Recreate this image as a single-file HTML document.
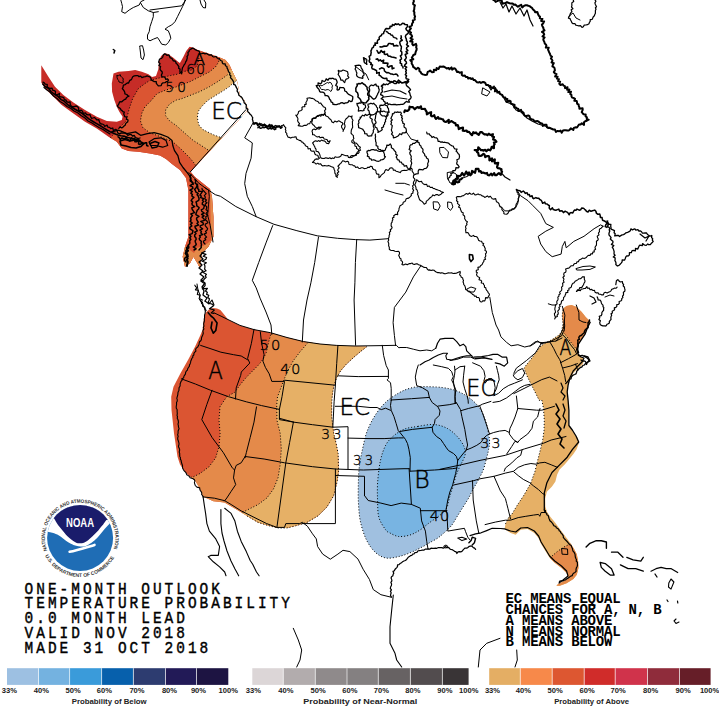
<!DOCTYPE html>
<html><head><meta charset="utf-8"><title>One-Month Outlook Temperature Probability</title>
<style>
html,body{margin:0;padding:0;background:#fff;width:719px;height:707px;overflow:hidden}
svg{display:block}
.mono{font-family:"Liberation Mono",monospace}
.sans{font-family:"Liberation Sans",sans-serif}
.lg{font-family:"Liberation Sans",sans-serif;font-weight:bold;font-size:7.6px;fill:#222}
.lg2{font-family:"Liberation Sans",sans-serif;font-weight:bold;font-size:8px;fill:#222}
.tt{font-family:"Liberation Mono",monospace;font-size:17px;letter-spacing:3.53px;fill:#000;stroke:#000;stroke-width:0.45px}
.ec{font-family:"Liberation Mono",monospace;font-weight:bold;font-size:14px;letter-spacing:-0.2px;fill:#000}
.ml{font-family:"DejaVu Sans",sans-serif;font-weight:200;fill:#000;stroke:#000;stroke-width:0.5px}
.noaa{font-family:"Liberation Sans",sans-serif;font-weight:bold;font-size:12.6px;fill:#fff}
.ring{font-family:"Liberation Sans",sans-serif;font-weight:bold;font-size:5px;fill:#333}
</style></head><body>
<svg width="719" height="707" viewBox="0 0 719 707">
<rect width="719" height="707" fill="#fff"/>
<defs>
<clipPath id="cak"><polygon points="41.3,65.3 48.4,76.7 55.0,86.7 63.4,95.0 73.4,102.6 85.0,110.0 96.8,116.8 106.8,121.0 116.8,121.8 121.8,120.1 122.6,116.8 119.3,111.8 116.8,106.8 114.3,100.0 112.1,91.7 111.8,83.4 113.5,73.4 118.5,71.7 128.5,70.9 135.2,70.0 141.8,71.7 148.5,74.2 152.0,77.0 156.0,76.0 158.3,69.2 159.0,60.9 161.1,56.0 164.6,53.2 168.1,53.9 173.0,57.4 177.8,61.6 179.9,63.0 183.4,56.7 186.2,51.1 189.6,46.7 193.1,47.6 197.3,49.7 202.9,51.8 209.7,54.0 219.6,57.4 225.5,59.9 229.5,64.9 232.5,71.8 235.4,77.7 236.9,80.7 240.4,97.5 244.4,100.5 248.3,109.4 190.5,171.7 195.0,177.0 200.0,181.0 205.0,185.0 210.0,189.0 212.0,197.0 213.4,216.7 213.4,236.7 208.4,246.7 201.8,253.4 200.0,268.3 197.4,263.3 193.4,256.7 190.0,263.3 185.0,266.7 182.7,256.7 185.0,246.7 188.4,236.7 188.4,216.7 188.4,190.0 186.0,178.0 180.0,170.0 172.0,164.0 166.0,159.0 160.0,155.5 150.0,153.5 138.5,151.8 128.5,151.0 121.8,148.5 116.8,141.8 108.5,136.8 96.8,128.5 85.0,121.8 73.4,113.4 61.7,105.0 51.7,95.0 45.0,88.4 41.3,82.5"/></clipPath>
<clipPath id="cw"><polygon points="205.6,312.7 209.0,309.5 213.3,308.1 217.0,308.5 220.4,309.9 224.5,315.0 228.2,319.8 240.0,325.4 254.0,329.6 270.5,332.7 287.0,337.5 303.6,341.6 320.0,344.0 336.7,345.4 352.0,346.2 366.7,346.7 360.0,352.0 353.0,358.0 346.0,364.5 340.5,371.0 336.5,378.0 333.8,386.0 332.3,395.0 331.7,403.3 331.7,416.7 332.6,424.5 333.7,433.4 335.9,442.3 338.1,453.4 338.6,471.2 337.0,482.4 333.7,495.7 327.0,506.9 318.1,515.8 307.0,522.4 295.8,525.8 286.9,528.0 278.0,528.0 269.1,525.8 258.0,522.4 246.8,515.8 235.7,509.1 224.5,502.4 213.4,501.3 203.4,496.8 200.0,489.0 195.6,481.2 188.9,475.7 184.5,471.2 180.0,464.5 177.5,456.7 174.0,433.3 171.5,410.0 171.2,396.7 173.5,386.7 180.5,373.3 188.0,360.0 195.0,346.7 200.0,336.0 202.5,330.0 204.0,318.0"/></clipPath>
<clipPath id="ce"><polygon points="563.0,308.7 566.4,306.1 571.5,304.9 576.6,307.0 581.7,312.1 585.9,317.2 588.5,319.7 590.2,322.3 587.6,327.4 585.1,334.1 581.7,339.2 578.3,344.3 576.6,349.4 578.3,354.5 581.7,357.1 584.2,359.6 582.5,364.7 578.3,368.1 573.2,373.2 569.8,380.0 568.1,385.1 567.2,391.9 568.1,400.4 568.9,410.2 568.9,425.5 573.2,432.3 577.4,437.4 579.1,442.4 576.6,449.2 573.2,454.3 568.9,459.4 564.7,464.5 559.6,469.6 557.1,474.7 555.4,481.5 552.0,486.6 546.9,491.7 545.2,498.5 545.4,506.8 547.1,511.9 550.5,517.0 554.7,522.1 559.8,528.9 564.9,535.7 570.0,542.4 574.2,549.2 576.8,554.3 578.1,561.1 578.5,567.9 576.8,574.7 573.4,578.9 566.6,583.2 559.8,585.7 556.4,585.7 558.1,584.0 563.2,581.5 568.3,578.1 566.6,573.0 561.5,567.9 554.7,562.8 549.6,557.7 545.4,550.9 541.1,544.1 538.6,538.2 534.3,533.1 527.5,528.9 520.7,529.7 515.7,534.8 510.6,533.1 504.6,528.9 505.5,523.8 508.9,517.0 512.1,513.8 517.2,505.3 524.0,495.1 530.7,483.2 535.0,471.3 537.5,461.1 540.1,450.9 542.6,440.7 544.0,430.6 544.3,420.4 543.5,408.5 541.8,400.0 539.2,400.4 535.0,391.9 530.7,383.4 526.5,374.9 524.0,368.1 526.5,364.7 530.7,359.6 535.8,352.8 540.9,346.0 546.0,342.6 551.1,340.1 557.9,335.8 561.3,332.4 563.0,324.0 562.2,315.5"/></clipPath>
</defs>
<g clip-path="url(#cak)">
<rect x="30" y="40" width="230" height="240" fill="#C62C27"/>
<polygon points="100.0,160.0 108.5,140.1 118.5,128.5 126.0,121.0 129.3,108.4 132.7,98.4 138.5,88.4 145.2,83.4 150.0,80.3 158.3,78.2 163.9,76.9 170.9,75.5 177.8,74.1 184.8,71.3 191.7,69.9 197.0,66.0 199.0,58.0 198.0,40.0 280.0,40.0 280.0,300.0 100.0,300.0" fill="#DB5532"/>
<polygon points="222.0,50.0 219.6,57.9 218.6,61.9 215.6,66.8 209.7,71.8 199.8,76.7 189.9,81.7 176.0,87.0 166.0,90.0 157.2,93.5 150.8,101.0 144.9,106.9 141.9,112.9 140.4,120.8 142.9,127.7 149.8,132.7 160.0,136.5 172.6,141.6 181.5,149.5 189.4,157.4 194.4,163.4 197.3,168.3 205.0,160.0 280.0,100.0 280.0,50.0" fill="#E48A4A"/>
<polygon points="229.0,70.0 227.5,74.8 223.6,77.7 217.6,81.7 209.7,86.6 199.8,91.6 189.9,95.5 180.9,99.0 176.5,100.0 169.6,104.0 165.6,109.9 165.6,115.8 169.6,120.8 176.5,125.7 185.4,133.7 193.4,140.6 198.3,143.6 208.1,150.0 212.0,152.0 280.0,100.0 280.0,70.0" fill="#E6B066"/>
<polygon points="238.0,79.0 236.4,80.7 232.5,83.7 229.5,86.6 223.6,90.6 215.6,95.5 207.7,100.5 201.8,106.4 198.5,111.0 197.5,116.0 197.8,121.0 199.3,125.7 203.0,129.6 213.2,134.7 222.5,138.1 226.0,139.0 280.0,100.0 280.0,79.0" fill="#fff"/>
<polygon points="180,252 185,246 190,250 194,253 197,248 203,246 208,243 212,239 216,236 216,275 180,275" fill="#E48A4A"/>
<polygon points="210,186 213,186 215,238 211,240" fill="#E48A4A"/>
</g>
<g clip-path="url(#cw)">
<rect x="160" y="300" width="240" height="240" fill="#DB5532"/>
<polygon points="272.0,300.0 270.7,334.7 268.5,342.6 266.2,352.8 262.8,359.6 258.3,365.2 252.6,370.9 247.0,376.6 241.3,383.3 234.5,392.4 226.7,396.7 220.0,406.7 219.0,420.0 220.1,433.4 219.0,446.7 215.6,457.9 209.0,466.8 200.0,473.5 193.4,476.8 186.7,477.9 170.0,480.0 170.0,560.0 400.0,560.0 400.0,300.0" fill="#E48A4A"/>
<polygon points="310.0,300.0 308.0,342.6 300.1,351.7 293.3,360.7 287.7,370.9 284.3,378.8 280.9,387.9 277.5,396.9 276.7,405.0 276.9,420.0 280.2,433.4 281.3,449.0 280.2,464.5 278.0,477.9 273.5,489.0 266.9,498.0 258.0,504.6 249.0,509.1 242.4,512.4 238.0,514.0 230.0,540.0 400.0,540.0 400.0,300.0" fill="#E6B066"/>
</g>
<g clip-path="url(#ce)">
<rect x="500" y="300" width="100" height="290" fill="#E6B066"/>
<polygon points="555.0,300.0 563.0,324.0 563.0,332.4 566.4,335.8 569.8,340.9 576.6,349.4 600.0,349.0 600.0,300.0" fill="#E48A4A"/>
<polygon points="540.0,570.0 552.0,556.0 558.0,551.0 564.0,547.0 570.0,544.0 576.0,541.5 590.0,540.0 600.0,560.0 600.0,600.0 540.0,600.0" fill="#E48A4A"/>
</g>
<path d="M420.6,386.7 C426.0,386.6 435.8,386.7 442.1,387.5 C448.4,388.3 453.3,389.5 458.2,391.5 C463.1,393.5 467.8,396.5 471.6,399.6 C475.4,402.7 478.5,406.3 481.0,410.3 C483.5,414.3 485.0,418.8 486.4,423.7 C487.8,428.6 489.1,435.5 489.5,439.9 C489.9,444.3 489.0,446.9 488.5,450.0 C488.0,453.1 487.3,455.4 486.4,458.7 C485.5,462.0 484.7,466.2 483.2,470.0 C481.7,473.8 479.3,478.1 477.6,481.3 C475.9,484.5 474.5,486.5 473.0,489.3 C471.5,492.1 470.2,495.3 468.5,498.3 C466.8,501.3 464.7,504.4 462.8,507.4 C460.9,510.4 459.1,513.4 457.2,516.4 C455.3,519.4 453.6,522.9 451.5,525.5 C449.4,528.1 447.0,530.2 444.7,532.3 C442.4,534.4 440.3,536.3 437.9,538.0 C435.4,539.7 432.3,541.2 430.0,542.5 C427.7,543.8 427.0,544.4 424.0,546.0 C421.0,547.6 416.2,550.2 412.0,552.0 C407.8,553.8 403.3,555.5 399.0,556.5 C394.7,557.5 389.9,558.7 386.0,558.0 C382.1,557.3 378.8,555.5 375.5,552.5 C372.2,549.5 369.0,545.1 366.5,540.0 C364.0,534.9 361.8,528.0 360.5,522.0 C359.2,516.0 358.9,510.1 358.5,504.0 C358.1,497.9 358.2,491.7 358.3,485.5 C358.4,479.3 358.6,473.0 359.3,466.7 C360.1,460.4 361.5,453.7 362.8,447.9 C364.1,442.1 364.9,437.2 366.9,431.8 C368.9,426.4 371.8,420.6 374.9,415.7 C378.0,410.8 381.7,406.0 385.7,402.2 C389.7,398.4 395.1,395.1 399.1,392.8 C403.1,390.5 406.3,389.3 409.9,388.3 C413.5,387.3 415.2,386.8 420.6,386.7Z" fill="#A0C0E0"/>
<path d="M417.9,426.4 C422.8,425.6 429.1,424.1 434.0,424.5 C438.9,424.9 443.6,426.4 447.5,428.5 C451.4,430.6 454.9,434.0 457.7,437.0 C460.4,440.0 462.8,443.7 464.0,446.5 C465.2,449.3 465.4,451.6 465.2,454.0 C465.0,456.4 463.8,458.4 462.8,460.7 C461.8,462.9 460.5,465.0 459.4,467.5 C458.3,470.0 457.1,472.4 456.0,475.7 C454.9,478.9 453.8,483.2 452.7,487.0 C451.6,490.8 450.2,494.9 449.3,498.3 C448.4,501.7 448.1,504.9 447.0,507.4 C445.9,509.8 444.2,511.3 442.5,513.0 C440.8,514.7 439.1,515.9 436.8,517.6 C434.6,519.3 431.8,520.9 429.0,523.0 C426.2,525.1 423.2,528.0 420.0,530.0 C416.8,532.0 413.6,533.9 410.0,535.0 C406.4,536.1 402.0,536.8 398.7,536.5 C395.4,536.2 392.2,534.1 390.0,533.0 C387.8,531.9 387.5,532.4 385.7,529.9 C383.9,527.4 380.4,522.5 379.0,517.8 C377.6,513.1 377.8,507.4 377.6,501.6 C377.4,495.8 377.2,489.5 377.6,482.8 C378.1,476.1 379.0,467.6 380.3,461.3 C381.6,455.0 383.5,449.4 385.7,445.2 C387.9,440.9 390.6,438.5 393.7,435.8 C396.8,433.1 400.5,430.7 404.5,429.1 C408.5,427.5 413.0,427.2 417.9,426.4Z" fill="#78B4E2"/>
<g clip-path="url(#cak)">
<polyline points="108.5,140.1 118.5,128.5 126.0,121.0 129.3,108.4 132.7,98.4 138.5,88.4 145.2,83.4 150.0,80.3 158.3,78.2 163.9,76.9 170.9,75.5 177.8,74.1 184.8,71.3 191.7,69.9 197.0,66.0 199.0,58.0" fill="none" stroke="#000" stroke-width="1" stroke-dasharray="1 2"/>
<polyline points="219.6,57.9 218.6,61.9 215.6,66.8 209.7,71.8 199.8,76.7 189.9,81.7 176.0,87.0 166.0,90.0 157.2,93.5 150.8,101.0 144.9,106.9 141.9,112.9 140.4,120.8 142.9,127.7 149.8,132.7 160.0,136.5 172.6,141.6 181.5,149.5 189.4,157.4 194.4,163.4 197.3,168.3" fill="none" stroke="#000" stroke-width="1" stroke-dasharray="1 2"/>
<polyline points="227.5,74.8 223.6,77.7 217.6,81.7 209.7,86.6 199.8,91.6 189.9,95.5 180.9,99.0 176.5,100.0 169.6,104.0 165.6,109.9 165.6,115.8 169.6,120.8 176.5,125.7 185.4,133.7 193.4,140.6 198.3,143.6 208.1,150.0" fill="none" stroke="#000" stroke-width="1" stroke-dasharray="1 2"/>
<polyline points="236.4,80.7 232.5,83.7 229.5,86.6 223.6,90.6 215.6,95.5 207.7,100.5 201.8,106.4 198.5,111.0 197.5,116.0 197.8,121.0 199.3,125.7 203.0,129.6 213.2,134.7 222.5,138.1" fill="none" stroke="#000" stroke-width="1" stroke-dasharray="1 2"/>
</g>
<g clip-path="url(#cw)">
<polyline points="270.7,334.7 268.5,342.6 266.2,352.8 262.8,359.6 258.3,365.2 252.6,370.9 247.0,376.6 241.3,383.3 234.5,392.4 226.7,396.7 220.0,406.7 219.0,420.0 220.1,433.4 219.0,446.7 215.6,457.9 209.0,466.8 200.0,473.5 193.4,476.8 186.7,477.9" fill="none" stroke="#000" stroke-width="1" stroke-dasharray="1 2"/>
<polyline points="308.0,342.6 300.1,351.7 293.3,360.7 287.7,370.9 284.3,378.8 280.9,387.9 277.5,396.9 276.7,405.0 276.9,420.0 280.2,433.4 281.3,449.0 280.2,464.5 278.0,477.9 273.5,489.0 266.9,498.0 258.0,504.6 249.0,509.1 242.4,512.4" fill="none" stroke="#000" stroke-width="1" stroke-dasharray="1 2"/>
</g>
<polyline points="366.7,346.7 360.0,352.0 353.0,358.0 346.0,364.5 340.5,371.0 336.5,378.0 333.8,386.0 332.3,395.0 331.7,403.3 331.7,416.7 332.6,424.5 333.7,433.4 335.9,442.3 338.1,453.4 338.6,471.2 337.0,482.4 333.7,495.7 327.0,506.9 318.1,515.8 307.0,522.4 295.8,525.8 286.9,528.0 278.0,528.0 269.1,525.8 258.0,522.4 246.8,515.8" fill="none" stroke="#000" stroke-width="1" stroke-dasharray="1 2"/>
<g clip-path="url(#ce)">
<polyline points="563.0,324.0 563.0,332.4 566.4,335.8 569.8,340.9 576.6,349.4" fill="none" stroke="#000" stroke-width="1" stroke-dasharray="1 2"/>
<polyline points="552.0,556.0 558.0,551.0 564.0,547.0 570.0,544.0 576.0,541.5" fill="none" stroke="#000" stroke-width="1" stroke-dasharray="1 2"/>
</g>
<polyline points="505.5,523.8 508.9,517.0 512.1,513.8 517.2,505.3 524.0,495.1 530.7,483.2 535.0,471.3 537.5,461.1 540.1,450.9 542.6,440.7 544.0,430.6 544.3,420.4 543.5,408.5 541.8,400.0 539.2,400.4 535.0,391.9 530.7,383.4 526.5,374.9 524.0,368.1 526.5,364.7 530.7,359.6 535.8,352.8 540.9,346.0 546.0,342.6 551.1,340.1 557.9,335.8 561.3,332.4 563.0,324.0 562.2,315.5 563.0,308.7" fill="none" stroke="#000" stroke-width="1" stroke-dasharray="1 2"/>
<path d="M420.6,386.7 C426.0,386.6 435.8,386.7 442.1,387.5 C448.4,388.3 453.3,389.5 458.2,391.5 C463.1,393.5 467.8,396.5 471.6,399.6 C475.4,402.7 478.5,406.3 481.0,410.3 C483.5,414.3 485.0,418.8 486.4,423.7 C487.8,428.6 489.1,435.5 489.5,439.9 C489.9,444.3 489.0,446.9 488.5,450.0 C488.0,453.1 487.3,455.4 486.4,458.7 C485.5,462.0 484.7,466.2 483.2,470.0 C481.7,473.8 479.3,478.1 477.6,481.3 C475.9,484.5 474.5,486.5 473.0,489.3 C471.5,492.1 470.2,495.3 468.5,498.3 C466.8,501.3 464.7,504.4 462.8,507.4 C460.9,510.4 459.1,513.4 457.2,516.4 C455.3,519.4 453.6,522.9 451.5,525.5 C449.4,528.1 447.0,530.2 444.7,532.3 C442.4,534.4 440.3,536.3 437.9,538.0 C435.4,539.7 432.3,541.2 430.0,542.5 C427.7,543.8 427.0,544.4 424.0,546.0 C421.0,547.6 416.2,550.2 412.0,552.0 C407.8,553.8 403.3,555.5 399.0,556.5 C394.7,557.5 389.9,558.7 386.0,558.0 C382.1,557.3 378.8,555.5 375.5,552.5 C372.2,549.5 369.0,545.1 366.5,540.0 C364.0,534.9 361.8,528.0 360.5,522.0 C359.2,516.0 358.9,510.1 358.5,504.0 C358.1,497.9 358.2,491.7 358.3,485.5 C358.4,479.3 358.6,473.0 359.3,466.7 C360.1,460.4 361.5,453.7 362.8,447.9 C364.1,442.1 364.9,437.2 366.9,431.8 C368.9,426.4 371.8,420.6 374.9,415.7 C378.0,410.8 381.7,406.0 385.7,402.2 C389.7,398.4 395.1,395.1 399.1,392.8 C403.1,390.5 406.3,389.3 409.9,388.3 C413.5,387.3 415.2,386.8 420.6,386.7Z" fill="none" stroke="#000" stroke-width="1" stroke-dasharray="1 2"/>
<path d="M417.9,426.4 C422.8,425.6 429.1,424.1 434.0,424.5 C438.9,424.9 443.6,426.4 447.5,428.5 C451.4,430.6 454.9,434.0 457.7,437.0 C460.4,440.0 462.8,443.7 464.0,446.5 C465.2,449.3 465.4,451.6 465.2,454.0 C465.0,456.4 463.8,458.4 462.8,460.7 C461.8,462.9 460.5,465.0 459.4,467.5 C458.3,470.0 457.1,472.4 456.0,475.7 C454.9,478.9 453.8,483.2 452.7,487.0 C451.6,490.8 450.2,494.9 449.3,498.3 C448.4,501.7 448.1,504.9 447.0,507.4 C445.9,509.8 444.2,511.3 442.5,513.0 C440.8,514.7 439.1,515.9 436.8,517.6 C434.6,519.3 431.8,520.9 429.0,523.0 C426.2,525.1 423.2,528.0 420.0,530.0 C416.8,532.0 413.6,533.9 410.0,535.0 C406.4,536.1 402.0,536.8 398.7,536.5 C395.4,536.2 392.2,534.1 390.0,533.0 C387.8,531.9 387.5,532.4 385.7,529.9 C383.9,527.4 380.4,522.5 379.0,517.8 C377.6,513.1 377.8,507.4 377.6,501.6 C377.4,495.8 377.2,489.5 377.6,482.8 C378.1,476.1 379.0,467.6 380.3,461.3 C381.6,455.0 383.5,449.4 385.7,445.2 C387.9,440.9 390.6,438.5 393.7,435.8 C396.8,433.1 400.5,430.7 404.5,429.1 C408.5,427.5 413.0,427.2 417.9,426.4Z" fill="none" stroke="#000" stroke-width="1" stroke-dasharray="1 2"/>
<g fill="none" stroke="#000" stroke-linejoin="round" stroke-linecap="round">
<polyline points="120.8,0.0 121.7,3.3 122.5,6.7 121.7,11.7 125.0,13.3 129.2,10.0 133.3,7.5 139.2,5.0 140.8,1.7 144.2,0.0"/>
<polyline points="140.8,3.3 143.3,7.5 148.3,10.8 153.3,12.5 158.3,11.7"/>
<polyline points="150.0,10.0 181.7,5.8 185.8,0.0"/>
<polyline points="153.3,12.5 153.3,16.7 151.7,21.7 150.0,26.7 149.2,31.7 147.5,35.0 147.5,39.2 150.0,40.8 153.3,39.2 157.5,37.5 159.2,40.0 161.7,44.2 165.8,45.0 168.3,42.5 170.8,38.3 170.0,35.0 168.3,30.8 165.0,29.2 168.3,26.7 171.7,25.0 175.0,21.7 177.5,16.7 180.0,11.7 182.5,6.7 184.2,3.3 185.0,0.0"/>
<polyline points="200.0,0.0 201.0,4.0 203.0,7.5 205.5,8.0 205.8,3.0 204.0,0.0"/>
<polygon points="140.0,46.0 142.5,45.7 143.6,50.0 144.4,55.0 143.0,59.7 141.0,58.0 140.5,53.0 139.9,48.0"/>
<polyline points="113.3,49.5 114.8,50.5 114.0,53.0" stroke-width="1.5"/>
<polyline points="119.1,128.1 120.0,127.0 121.8,127.8 123.0,127.2 124.0,126.0 125.2,125.2 125.6,123.6 126.6,122.6 127.6,122.0 128.1,120.0 126.5,119.2 126.8,117.1 124.6,116.6 124.3,115.2 123.7,114.0 124.3,112.2 122.9,111.7 122.1,110.6 120.9,109.9 120.4,108.5 118.8,107.6 117.2,105.9 118.4,104.8 119.0,103.4 119.8,101.7 121.8,101.8 122.9,100.7 124.2,99.7 125.7,99.1 126.5,97.5 127.7,96.7 129.0,96.1 127.7,95.5 126.8,94.5 124.9,93.9 124.8,92.2 124.1,90.9 123.3,89.7 122.3,88.6 123.0,87.4 123.4,85.2 125.3,84.6 126.4,83.5 127.6,82.9 128.6,83.0 129.1,81.7 129.8,80.4 131.3,79.6 131.9,78.5 132.7,76.7 134.2,75.9 136.1,75.6 138.0,75.6 139.0,76.7 140.6,76.1 141.9,77.6 143.8,76.9 145.5,76.6 147.1,75.9 148.4,76.4 149.9,76.8 150.9,78.2 151.5,80.1 152.9,80.8 154.2,81.6 156.3,81.6 156.3,83.3 157.1,84.4 158.3,85.8 161.2,85.6 161.8,83.7 163.0,82.8 165.0,82.7 166.2,81.7 167.6,81.3 168.5,80.2 167.5,78.8 165.7,79.4 165.1,77.5 163.8,76.9 161.9,76.9 161.4,75.0 162.3,73.1 162.1,71.7 161.1,70.7 160.1,69.6 160.1,68.1 160.6,66.5 158.9,65.5 160.1,63.7 158.6,62.1 159.1,60.6 159.6,59.0 161.5,58.4 162.7,57.1 163.3,55.0 164.4,54.0 165.8,54.2 166.9,55.4 169.0,54.9 169.6,56.7 170.3,57.9 171.8,58.4 172.6,59.5 173.2,60.8 174.9,61.0 175.8,62.0 176.2,63.5 177.3,64.2 178.0,65.5 178.9,66.6 178.6,68.3 180.1,69.1 179.9,70.6 180.0,72.2 181.7,73.7 181.4,72.0 182.0,70.4 182.5,67.7 183.3,66.5 183.9,65.2 184.8,64.1 185.3,62.9 185.8,61.6 186.6,60.5 186.9,59.2 187.3,57.9 187.0,56.5 187.9,55.4 188.2,54.1 187.9,52.5 189.1,51.5 189.3,50.0 190.7,49.5 191.3,48.7 192.8,48.1 194.1,48.8 195.3,49.7 196.7,50.3 198.3,50.8 199.4,51.6 199.9,53.9 201.6,53.6 203.3,53.2 205.0,53.8 206.4,53.3 207.6,54.3 208.9,55.0 210.2,54.8 211.7,55.0 212.6,56.5 213.9,57.0 215.9,56.3 216.9,57.7 218.1,58.6 219.6,59.2 220.5,60.5 222.1,61.0 222.3,62.8 223.2,63.9 225.2,63.9 225.4,65.7 226.9,66.5 227.1,68.2 227.9,69.5 228.2,70.8 228.8,72.1 230.0,73.2 229.6,74.8 231.0,75.9 230.4,77.6 231.5,78.7 232.4,79.9 233.2,81.2 233.9,82.5 233.6,84.3 235.4,85.1 235.9,86.6 236.6,87.9 237.4,89.3 237.1,91.1 238.0,92.3 238.6,93.8 238.9,95.3 240.3,96.3 241.5,97.1 242.4,98.4 243.1,100.0 243.9,101.2 244.1,102.7 245.3,103.8 246.3,105.0 246.2,106.6 246.2,108.2 247.8,109.0 247.5,110.8 248.1,112.0 249.3,113.1 250.1,114.3 251.3,115.2 252.0,116.5 252.7,117.7 252.4,119.5 252.9,120.8 253.1,122.3 254.5,123.2" stroke-width="1.3"/>
<polyline points="116.9,75.6 118.5,75.6 120.3,74.7 120.7,76.2 121.6,77.1 122.7,77.9 123.3,79.0 123.0,80.4 123.3,82.0 122.5,83.3 120.8,82.5 119.0,82.0 118.6,80.5 117.8,79.5 117.1,77.8 117.0,76.0"/>
<polyline points="42.8,84.0 45.0,86.5 48.5,88.3 51.0,91.5 54.1,94.0 57.5,96.0 61.2,99.6 64.0,101.0 68.3,105.3 71.5,107.0 75.4,109.5 79.0,111.5 82.4,113.7 86.0,116.5 89.5,119.4 93.0,121.5 96.6,123.6 100.0,125.5 103.6,127.9 107.0,130.0 110.7,132.1 114.0,133.5 117.8,135.0 121.0,135.8 124.9,136.4 128.0,137.5 131.9,138.5 136.0,139.5 140.0,140.6" stroke-width="1.6"/>
<polyline points="44.0,87.5 47.0,90.0 50.0,92.0 53.5,96.0 57.0,98.5 60.0,101.5 63.5,103.5 67.0,106.5 71.0,108.5 74.0,111.0 78.0,113.0 81.0,115.5 85.0,118.0 88.0,121.0 92.0,123.0 95.0,125.0 99.0,127.5 103.0,129.5 106.0,131.5 110.0,134.0" stroke-width="1.2"/>
<polygon points="150.0,143.5 155.0,141.5 159.0,143.0 157.0,147.0 152.0,148.0" stroke-width="1.4"/>
<polyline points="246.0,109.6 201.9,158.8 190.5,171.7"/>
<polyline points="111.7,131.9 118.5,130.2 127.0,133.6 135.5,131.9 140.6,135.3 147.4,133.6 154.1,132.7 160.9,134.4 167.7,137.0 172.0,140.4 172.8,145.5 174.5,150.6 177.9,155.7 179.6,162.4 183.0,167.5 187.2,172.6 189.8,176.0 191.5,181.1 193.2,184.5" stroke-width="1.3"/>
<polygon points="149.0,142.1 154.1,138.7 160.9,137.8 166.0,140.4 167.7,145.5 162.6,147.2 155.8,145.5 150.7,145.5" stroke-width="1.2"/>
<polygon points="120.0,141.0 125.0,139.5 130.0,141.0 135.0,140.0 140.0,141.5 144.0,143.5 141.0,146.5 136.0,148.0 131.0,147.5 126.0,146.0 121.0,145.0" stroke-width="1.6"/>
<polyline points="188.9,172.6 194.9,178.6 198.3,182.8 205.1,187.9 208.5,190.0 209.3,196.4 208.5,204.9 207.6,215.1 210.2,225.3 211.9,235.4 213.0,242.0"/>
<polyline points="205.1,187.9 215.3,194.7 220.5,196.3 235.8,206.5 256.2,216.7 274.0,224.3 296.9,230.7 317.2,235.8 337.6,238.3 355.4,239.6 369.9,240.1 388.0,238.7"/>
<polyline points="253.0,123.0 244.7,137.8 252.3,142.9 251.1,158.2 246.0,173.4 244.7,183.6 247.3,196.3 252.3,206.5 256.2,216.7"/>
<polyline points="272.7,225.6 266.3,242.1 258.7,262.5 252.3,280.3 256.2,287.9 260.0,298.1 266.0,312.0 271.0,325.0 271.8,334.4"/>
<polyline points="318.5,237.0 314.7,262.5 310.9,282.8 307.0,300.0 303.5,320.0 302.3,342.0"/>
<polyline points="356.7,239.6 355.4,262.5 354.9,282.8 354.1,300.0 355.6,345.3"/>
<polyline points="421.1,265.4 413.4,276.9 405.8,292.1 394.4,307.4 393.1,322.7 394.4,335.4 395.6,345.6"/>
<polyline points="489.8,297.2 492.3,312.5 496.0,325.0 498.6,330.0 500.9,336.8 506.6,342.4 511.1,345.8 517.9,344.7 524.7,347.0 530.0,345.8 535.6,341.5 541.8,342.7"/>
<polyline points="516.5,189.3 520.4,195.6 528.0,200.7 533.1,205.8 540.7,213.4 545.8,223.6 553.4,227.4 545.8,231.2 538.2,236.3 540.7,244.0 545.8,251.6 552.2,256.7 561.1,254.1 562.3,246.5 564.9,241.4 566.2,247.8 573.8,241.4 584.0,236.3 594.1,228.7 600.5,224.9 603.1,226.2"/>
<polyline points="254.3,124.1 255.9,123.4 257.3,124.3 258.7,124.6 260.3,123.9 261.7,123.8 262.9,125.1 264.4,124.3 265.7,125.0 266.9,126.2 268.3,126.3 269.8,125.0 271.2,125.1 272.5,125.5 273.7,126.9 275.3,125.4 276.6,126.0 278.0,126.0 279.3,126.2 280.6,127.1 281.3,125.7 282.8,125.2 283.6,124.7 284.5,126.4 285.9,127.9 285.3,129.3 285.9,130.6 285.5,132.1 286.8,133.3 286.7,134.5 287.4,135.7 288.0,137.1 289.5,137.4 290.7,138.1 292.3,137.3 294.0,137.1 296.1,136.8 296.5,138.9 297.9,139.6 299.2,140.4 300.9,140.6 301.4,141.9 302.9,142.3 303.5,143.6 304.8,144.1 305.3,145.5 306.3,146.2 307.7,146.8 308.1,149.0 310.3,148.5 310.7,150.5 312.0,151.2 313.9,151.0 314.5,152.5 315.0,154.2 316.2,155.0 317.8,155.2 318.3,157.0 319.5,158.1 318.3,159.2 316.8,158.9 315.3,159.2 314.2,160.7 312.5,162.5 314.5,162.7 316.1,164.1 317.8,163.1 318.9,164.2 320.5,163.7 321.6,165.2 322.9,166.0 324.3,165.5 325.7,165.7 327.1,166.0 328.5,165.4 329.9,165.9 331.5,166.7 332.9,167.1 333.9,168.2 334.1,169.5 334.8,170.7 334.8,172.1 335.0,173.5 336.1,174.5 335.8,176.0 337.3,177.3 337.0,175.8 338.2,174.7 337.3,173.0 338.8,171.9 337.7,170.3 338.2,169.0 339.2,167.8 337.9,166.2 339.2,165.0 339.6,164.2 340.8,163.4 341.6,162.2 342.6,160.7 344.0,161.0 345.3,161.9 347.3,161.2 348.6,162.0 348.9,164.2 350.5,164.7 352.1,164.7 353.3,165.7 354.8,165.9 355.7,167.5 357.5,166.9 358.6,168.2 360.0,168.5 361.4,167.8 362.8,167.8 364.1,168.6 365.3,168.5 366.7,168.3 367.8,167.2 369.4,167.4 370.5,166.2 372.1,166.5 372.6,168.5 373.8,169.5 375.2,169.9 376.0,171.0 376.1,172.6 376.6,173.9 378.9,174.4 378.9,176.5 378.9,177.7 380.3,176.8 381.0,175.4 382.2,174.4 383.4,173.4 384.4,172.6 384.9,170.8 385.9,169.6 388.2,170.4 389.1,169.3 390.0,168.1 391.5,167.8 392.8,168.2 393.4,170.3 395.0,170.1 396.0,171.2 397.3,171.5 398.6,172.0 400.2,172.6 401.3,171.0 402.8,170.5 404.5,170.4 406.2,170.5 407.5,170.0 408.7,169.5 409.8,168.6 411.0,168.0 412.2,169.1 412.1,170.9 412.8,172.2 413.8,173.5 414.0,174.8 413.4,176.1 413.4,177.6 414.9,179.1 414.4,180.5 413.6,181.9 413.3,183.3 413.9,184.7 412.5,185.9 413.2,187.4 412.5,188.7 413.7,190.3 412.9,191.6 413.0,193.1 411.2,194.0 411.4,195.5 410.8,196.0 409.8,197.1 408.7,198.1 407.4,198.4 406.2,198.7 405.7,200.2 405.0,201.6 403.2,202.3 402.9,204.0 401.5,204.9 400.0,205.7 399.6,207.2 399.0,208.5 398.9,209.9 398.5,211.2 397.5,212.4 397.7,214.6 396.0,214.3 395.1,214.7 393.7,215.7 394.0,217.2 392.4,218.1 392.9,219.6 392.2,220.8 392.1,222.1 391.2,223.3 391.2,224.6 391.1,225.9 392.1,227.4 391.6,228.7 390.2,229.7 390.7,231.1 389.3,232.5 389.8,234.1 389.1,235.6 389.1,237.1 388.4,238.5 388.7,240.2 387.9,241.6 388.7,243.3 388.7,244.9 388.6,245.8 389.3,247.3 389.3,249.3 390.6,250.3 391.8,250.5 393.4,250.5 395.0,251.3 396.6,251.5 398.5,251.3 399.5,252.4 399.5,253.8 398.7,255.5 399.4,256.7 399.7,258.0 401.1,258.9 400.9,260.5 402.3,261.4 402.6,262.7 401.9,264.5 403.1,264.9 404.4,264.6 405.7,264.0 407.3,264.8 408.5,264.1 409.7,263.5 410.7,263.6 412.2,263.1 413.3,264.3 414.6,264.4 416.1,263.8 417.4,263.9 418.5,264.8 419.9,265.0 420.8,265.9 422.2,266.3 423.4,267.1 424.8,267.5 426.4,267.5 427.2,269.0 428.4,270.1 429.9,269.9 431.1,270.5 432.7,270.0 434.0,270.2 435.1,271.3 436.2,272.0 437.4,272.6 438.9,272.6 440.1,273.1 441.7,272.7 443.0,273.0 443.9,273.6 445.5,273.7 447.0,273.3 448.4,272.9 450.0,273.0 451.5,272.8 453.2,273.5 454.8,273.4 456.3,273.3 457.8,272.5 460.1,271.4 460.3,272.8 459.6,274.8 460.8,275.8 461.1,277.1 462.7,278.0 462.9,279.3 463.5,280.5 463.0,282.0 463.6,283.1 463.7,284.5 464.7,285.6 465.0,286.3 465.5,287.9 465.7,289.6 467.1,290.3 468.3,291.2 469.9,291.4 470.6,292.7 471.7,293.3 472.5,294.5 473.9,294.9 474.5,296.2 476.2,296.1 476.7,297.5 478.7,297.5 479.5,298.7 479.6,300.7 480.6,301.8 481.8,302.0 482.7,300.9 484.8,300.9 485.3,299.4 485.6,297.6 487.9,297.9 488.6,296.0 489.5,294.9 489.1,293.6 488.1,292.6 487.7,291.3 486.7,290.4 486.0,289.3 485.8,287.8 484.4,287.2 484.5,285.5 483.7,284.6 483.3,283.2 481.2,283.0 481.7,281.2 480.7,280.2 479.0,279.7 479.7,277.8 478.3,276.9 477.1,275.9 476.5,274.6 477.3,272.6 476.3,272.2 476.3,270.2 478.3,269.7 477.9,267.4 479.9,266.9 480.5,265.8 481.7,264.9 482.5,263.9 482.9,262.6 483.8,261.7 483.9,260.1 485.6,259.2 484.8,257.8 485.6,256.6 485.8,255.3 485.4,253.9 486.4,252.8 486.4,251.3 484.9,250.4 485.3,248.8 484.7,247.6 484.4,246.3 482.9,245.4 483.7,243.5 482.2,242.9 481.6,241.3 479.8,241.0 478.5,240.2 478.0,238.5 477.1,237.1 475.9,236.5 474.5,236.5 473.4,235.4 471.7,236.4 470.4,236.0 469.3,235.0 468.7,233.7 467.9,232.6 465.9,232.7 465.8,231.1 465.5,229.8 466.1,228.5 465.5,227.1 465.8,225.9 467.0,224.7 466.6,223.5 467.4,221.8 466.0,220.9 465.3,219.7 464.6,218.5 464.8,217.0 464.3,215.8 463.0,214.8 463.2,212.7 461.5,212.0 461.0,210.5 460.4,209.3 460.3,208.0 458.5,207.1 459.7,205.3 458.6,204.3 457.4,203.3 457.9,201.8 456.5,200.8 456.9,199.3 456.3,197.3 457.6,196.5 459.2,196.6 460.8,196.7 462.0,195.9 463.4,195.7 464.5,194.9 465.6,194.0 466.7,193.5 467.9,194.4 469.5,193.0 470.7,194.0 472.0,194.3 473.5,193.2 475.0,195.0 476.6,194.6 478.1,193.9 479.3,194.7 480.9,194.8 482.0,195.9 483.4,196.2 484.7,197.4 486.0,196.7 487.4,195.9 488.7,197.2 490.2,196.2 491.3,197.5 492.3,198.8 493.8,199.1 495.7,198.6 496.1,200.3 496.5,201.8 498.1,202.6 499.1,203.8 499.4,205.3 500.0,206.7 501.9,207.4 501.9,209.7 502.9,210.8 503.9,211.9 503.8,213.5 504.6,214.0 506.7,214.2 508.0,213.2 508.8,211.6 509.8,210.0 511.3,210.0 512.3,208.7 514.0,208.9 514.5,208.0 515.7,206.9 515.9,205.6 516.2,204.2 517.1,203.1 517.4,201.8 518.5,200.7 518.1,198.8 518.8,197.3 519.5,195.4 518.0,194.6 518.1,193.1 516.9,192.1 517.0,190.6 516.5,189.3" stroke-width="1.1"/>
<polyline points="395.8,183.3 404.3,183.3 409.4,185.0"/>
<polyline points="385.0,190.0 395.0,193.0 403.0,195.0"/>
<polyline points="296.5,115.9 297.3,114.7 298.2,113.5 298.5,111.8 299.6,110.9 301.2,110.4 302.2,109.5 301.9,107.5 302.9,106.7 304.9,106.6 304.6,104.6 306.3,104.1 305.9,102.6 306.7,101.2 307.4,99.8 306.9,98.4 308.4,98.0 309.9,97.8 311.3,98.4 312.6,98.4 313.9,98.9 314.9,99.8 315.8,100.8 317.2,101.2 318.2,101.8 319.1,103.2 320.8,103.0 321.6,104.5 322.5,105.3 323.3,106.7 325.2,107.5 325.8,109.2 324.5,110.8 325.3,112.7 324.5,113.3 323.5,115.2 321.8,114.3 320.8,116.2 319.2,115.3 317.6,115.5 316.6,116.8 315.2,117.5 313.6,117.9 312.1,118.7 312.1,121.0 310.5,121.6 309.8,123.6 308.2,123.7 307.2,124.7 305.9,125.4 304.3,125.2 302.6,126.2 300.9,126.1 298.2,125.6 299.6,123.6 298.2,122.1 297.6,120.7 298.0,118.9 297.5,117.6 296.7,116.4 295.8,115.2" stroke-width="1.1"/>
<polyline points="312.4,120.1 313.0,118.5 314.7,118.5 316.0,118.1 316.5,116.4 318.0,116.5 319.2,115.3 320.5,114.7 321.9,114.7 323.5,115.1 325.2,113.8 325.6,115.7 327.2,116.4 328.5,117.2 329.2,118.5 330.3,119.2 331.2,120.2 331.7,121.7 333.4,122.8 334.8,121.0 336.8,122.0 338.4,120.9 339.3,121.0 340.8,122.0 342.4,122.8 343.0,124.2 341.6,125.6 341.5,127.1 342.3,128.5 343.3,129.9 343.1,131.5 343.4,130.2 344.1,129.0 344.7,127.8 345.1,126.3 344.8,124.9 344.3,123.5 344.8,122.1 344.9,120.8 345.5,119.8 346.4,118.4 347.8,117.6 348.5,116.0 349.9,116.2 351.3,116.9 352.1,115.9 351.7,117.3 352.0,118.8 353.0,120.3 352.3,121.7 352.5,123.1 352.4,124.5 352.6,125.9 352.7,127.3 351.9,128.8 351.3,130.2 351.2,131.6 351.0,133.2 352.0,134.4 353.4,135.6 353.4,137.1 353.9,138.5 352.6,140.2 353.8,141.2 354.6,142.7 356.2,143.1 357.3,144.2 358.0,145.1 358.8,146.3 360.4,147.2 359.7,148.8 360.6,150.2 358.8,150.5 359.1,152.4 358.3,153.5 356.8,153.4 355.3,154.8 354.1,155.8 352.1,155.5 350.8,156.1 350.2,157.6 348.5,157.5 347.8,155.6 346.0,155.8 344.5,155.3 343.8,155.0 341.7,154.2 340.9,156.0 339.7,156.9 338.1,157.2 336.5,157.2 335.1,156.8 334.0,158.5 332.5,157.9 331.2,158.8 329.8,157.8 328.4,158.5 327.1,158.1 325.7,157.8 324.4,158.4 323.0,158.5 321.2,158.1 320.3,156.7 319.9,154.9 319.2,153.2 318.0,151.6 316.1,151.2 316.0,149.1 315.2,148.1 314.8,146.8 314.1,145.6 313.5,144.4 312.6,143.0 314.5,141.2 315.8,140.7 317.3,141.4 318.5,140.6 320.0,141.4 321.5,140.1 322.8,140.7 324.3,140.9 325.5,141.7 326.5,143.2 328.6,143.7 330.2,140.8 328.0,141.7 327.2,139.8 325.8,139.3 324.2,139.0 323.2,137.2 321.7,137.4 320.2,137.8 319.1,136.4 317.5,136.9 316.2,136.4 315.1,135.6 314.1,134.7 312.5,134.6 312.6,133.1 312.0,131.2 312.8,129.5 314.2,129.0 315.5,129.7 316.9,128.7 318.2,128.7 319.2,129.2 321.4,127.1 320.0,127.4 318.6,127.1 317.1,128.2 315.8,127.4 314.9,126.8 314.1,125.5 312.7,124.5 311.7,122.9 312.0,121.1 312.0,119.4" stroke-width="1.1"/>
<polyline points="316.5,85.9 318.0,85.5 318.1,82.8 320.6,83.8 321.6,82.8 322.1,80.5 324.2,81.5 325.5,80.8 326.2,78.8 328.0,80.3 329.0,78.5 330.5,78.4 331.9,78.5 332.9,78.2 334.0,79.1 335.8,79.1 336.6,80.4 337.2,82.3 336.5,83.9 335.7,85.5 337.3,86.3 337.3,87.9 337.0,89.7 337.8,90.1 339.3,89.4 339.8,87.5 341.3,87.6 343.5,87.7 344.5,88.9 344.7,91.0 346.3,91.6 347.3,93.0 348.3,94.2 349.6,94.8 350.9,95.5 352.7,96.5 352.8,97.9 352.6,99.3 352.0,101.3 350.6,101.5 349.0,100.5 348.0,102.4 346.7,102.9 345.3,102.9 344.1,103.7 342.1,102.7 340.6,102.9 339.4,103.9 338.5,103.9 336.6,104.6 334.9,104.5 333.0,104.3 332.7,102.6 331.0,101.9 330.7,100.2 329.6,99.2 329.1,97.7 328.4,96.4 327.0,95.7 325.1,95.6 324.8,93.8 323.9,92.7 322.5,92.2 320.7,92.2 319.6,91.4 319.1,89.7 318.4,88.7 317.0,87.2 316.2,85.5" stroke-width="1.3"/>
<polyline points="318.9,85.6 320.5,85.6 322.2,85.7 323.6,84.7 325.0,84.0 326.1,83.2 327.3,82.5 329.0,83.2 329.7,82.2 331.3,83.1 331.9,84.8 332.7,85.9 331.9,87.0 332.3,88.6 331.8,89.9 330.9,91.5 329.7,90.5 328.5,89.7 327.1,89.6 325.2,90.2 323.6,89.5 321.5,89.5 320.6,88.4 320.0,87.0 319.0,86.0"/>
<polyline points="338.2,70.4 340.0,71.2 341.5,71.1 343.1,70.0 344.5,70.5 345.9,71.0 347.6,71.8 347.8,73.1 348.2,74.4 347.6,75.9 348.9,77.3 348.0,78.5 346.2,79.1 345.3,80.4 344.7,82.6 343.5,81.6 342.7,80.0 340.8,80.1 340.5,78.6 339.9,77.2 339.2,76.0 338.1,74.4 338.9,72.6 338.3,71.0" stroke-width="1.2"/>
<polyline points="355.2,65.7 357.1,65.4 358.9,65.1 360.5,65.5 361.0,67.0 361.3,68.2 362.4,69.5 363.0,71.0 363.1,72.6 364.1,74.0 363.8,75.4 362.5,76.3 363.0,77.9 362.3,78.4 360.9,77.8 359.4,77.6 358.0,77.0 356.9,76.0 356.5,74.7 356.9,73.1 356.4,72.0 356.0,70.5 355.1,69.1 355.8,67.5 355.3,66.0" stroke-width="1.2"/>
<polyline points="357.1,84.7 358.6,83.5 360.4,83.8 362.2,82.7 363.4,84.0 364.9,84.7 365.9,86.0 367.1,87.3 367.1,89.0 367.8,90.4 368.7,91.9 367.7,93.5 367.7,94.9 369.2,96.1 368.6,97.6 369.0,99.0 368.1,100.4 366.9,101.6 366.1,102.7 364.3,103.0 362.6,102.5 361.0,102.0 360.9,100.3 360.1,99.1 359.1,98.0 357.9,97.0 358.2,95.4 357.9,94.0 357.4,92.6 355.9,91.5 355.9,90.0 355.8,88.4 356.4,87.0 357.3,85.6 357.0,84.0" stroke-width="1.5"/>
<polyline points="355.1,66.0 360.0,70.0 366.0,74.0 368.7,79.8"/>
<polygon points="363.6,57.7 366.0,59.0 367.0,64.5 364.5,63.0"/>
<polyline points="375.5,45.2 375.0,43.1 377.5,43.2 377.3,41.3 377.9,40.0 379.3,39.3 379.1,37.4 380.0,36.3 381.4,35.5 381.8,34.1 383.6,33.6 383.8,32.1 384.6,30.9 385.3,29.4 386.4,28.4 388.4,28.7 389.8,28.3 390.1,26.2 391.9,26.4 392.5,24.4 394.1,25.4 395.3,23.8 396.8,24.5 398.2,23.8 399.5,24.9 400.9,24.8 402.5,23.2 403.9,23.4 405.1,24.6 407.3,24.7 407.6,26.4 405.9,28.5 406.3,29.7 408.5,31.8 408.1,33.4 406.1,34.8 405.4,36.3 405.7,37.7 406.4,39.1 406.4,40.5 407.3,41.9 407.4,43.3 406.5,44.6 408.5,46.2 406.7,47.5 406.5,48.9 407.9,50.5 406.0,51.7 407.6,53.3 405.2,54.5 405.6,55.9 406.3,57.4 405.8,58.8 404.6,60.1 406.2,61.7 406.5,63.2 405.0,64.6 404.5,66.0 406.7,67.2 405.2,68.8 406.4,70.1 405.7,71.6 406.4,73.0 405.3,74.7 406.6,75.8 405.9,77.4 406.2,78.7 408.8,79.4 407.0,81.3 408.6,81.6 406.9,83.1 405.7,81.7 404.2,82.3 402.6,82.7 401.2,82.4 400.0,81.4 398.4,80.1 397.2,82.6 395.6,81.3 394.0,80.7 392.7,82.3 391.1,81.5 389.9,82.1 388.9,80.7 387.2,80.4 386.8,78.3 384.5,78.6 383.0,78.0 381.6,77.2 380.6,75.9 379.1,75.2 379.3,72.4 376.7,73.2 376.6,70.7 375.4,70.0 373.9,69.3 372.2,68.7 371.7,67.3 372.6,65.0 370.6,64.5 371.4,63.1 369.5,62.0 369.1,60.7 369.8,59.3 369.6,58.0 369.1,56.4 370.7,55.3 370.9,53.9 371.2,52.5 370.9,50.9 371.6,49.6 372.0,48.1 373.4,47.3 373.8,45.8 374.8,44.7" stroke-width="1.5"/>
<polyline points="380.0,46.9 381.7,47.0 383.1,46.4 384.7,46.1 386.2,46.3 387.5,45.6 388.6,43.5 390.1,43.5 391.6,44.1 393.1,43.7 393.7,45.9 395.2,45.7 396.8,45.4 398.0,46.0" stroke-width="1.6"/>
<polyline points="377.0,50.5 378.4,53.2 379.8,52.7 381.2,50.5 382.6,52.2 384.5,51.4 384.2,53.8 385.3,54.5 387.4,54.0 387.8,55.6 389.0,56.2 390.1,56.3 391.5,57.0 393.1,57.2 394.5,57.6 396.0,58.0" stroke-width="1.6"/>
<polyline points="376.1,59.2 377.6,58.9 378.7,60.9 380.3,59.8 381.5,61.2 383.7,60.1 383.0,63.0 384.6,63.1 386.4,63.0 387.9,63.3 387.3,66.0 388.5,67.2 390.4,66.0 392.0,65.8 392.2,68.9 394.0,68.0" stroke-width="1.6"/>
<polyline points="379.5,69.0 381.6,67.8 382.9,68.2 384.1,68.8 384.5,71.0 385.6,71.9 386.6,72.8 388.2,72.6 389.4,73.2 390.6,73.9 392.0,74.0 393.5,74.6 395.3,74.1 396.9,74.3 398.0,76.0" stroke-width="1.5"/>
<polyline points="401.1,35.8 401.4,37.3 400.7,38.5 402.3,40.3 400.3,41.2 399.7,42.5 400.1,44.0 400.4,45.3 401.4,46.5 401.3,47.9 401.1,49.4 400.7,50.9 401.8,52.0 401.8,53.4 401.8,54.8 400.3,55.8 401.2,57.5 401.5,59.0 399.9,60.1 400.5,61.4 400.1,63.0 401.7,63.9 401.5,65.5 402.9,66.5 403.0,68.0" stroke-width="1.5"/>
<polyline points="386.3,31.5 387.6,32.1 388.5,33.4 390.1,33.7 390.9,35.0 392.5,35.2 393.2,36.8 394.4,37.6 395.9,37.9 397.0,39.0" stroke-width="1.4"/>
<polyline points="363.8,58.1 366.6,58.9 367.0,60.2 366.8,61.7 366.2,63.2 366.8,64.8 366.1,63.1 364.7,63.0 364.4,61.7 364.5,60.3 364.3,59.0 364.0,57.7"/>
<polyline points="382.6,85.9 383.5,83.8 385.1,84.9 386.3,84.0 387.9,84.7 389.0,83.3 390.4,82.9 391.7,81.9 393.2,82.6 394.8,83.7 396.2,83.6 397.6,81.7 398.8,83.2 400.4,81.9 401.7,82.9 403.2,82.7 404.6,82.5 406.1,83.1 406.2,84.8 407.0,86.1 408.4,87.1 409.5,88.2 410.6,89.8 408.6,91.5 409.7,92.7 410.0,94.1 410.3,95.4 411.2,97.0 410.6,98.6 408.6,100.0 409.5,102.2 408.0,102.1 406.4,101.4 405.1,102.5 403.9,103.8 402.5,104.3 401.0,104.4 399.6,104.7 398.1,104.6 396.7,104.8 395.3,104.5 393.8,104.3 392.4,104.7 391.0,104.6 389.7,104.0 388.3,104.6 387.2,102.7 385.2,104.0 385.1,102.1 383.8,101.2 383.2,99.7 381.1,98.7 383.3,97.0 382.8,95.7 380.6,94.6 381.0,93.1 382.4,91.8 382.2,90.4 381.9,89.0 382.7,87.7 381.2,86.1 382.3,84.9" stroke-width="1.3"/>
<polyline points="384.0,92.0 392.0,90.0 400.0,91.0 406.0,94.0" stroke-width="1.2"/>
<polyline points="384.0,97.0 392.0,96.0 400.0,98.0 407.0,99.0"/>
<polyline points="370.0,86.0 371.3,85.0 373.2,85.7 374.6,84.7 375.9,84.1 376.4,85.8 378.5,86.3 378.5,87.9 379.2,89.5 379.0,90.9 378.7,92.2 377.8,93.5 377.5,94.5 376.8,95.8 376.2,97.2 375.4,98.4 373.8,99.3 372.4,98.4 371.3,97.0 370.0,96.0 369.1,94.5 368.9,92.8 369.6,91.1 369.6,89.4 369.0,87.5 370.0,86.0" stroke-width="1.3"/>
<polyline points="356.8,103.4 358.3,103.6 359.4,102.8 361.0,103.1 361.9,102.1 363.0,103.0 363.5,104.5 365.2,104.8 365.5,105.8 365.6,107.3 364.7,108.4 363.8,109.5 364.0,110.5 362.3,110.8 360.7,110.5 358.3,111.2 358.5,109.6 358.8,108.0 358.2,106.7 357.3,105.4 357.0,104.0" stroke-width="1.2"/>
<polyline points="368.0,104.0 369.5,103.9 370.9,103.2 372.6,103.9 373.7,103.2 374.7,104.5 376.1,105.5 376.6,107.1 377.6,107.9 377.4,109.5 377.6,111.2 376.6,112.5 375.9,113.3 374.3,114.2 372.7,114.9 371.2,114.9 369.8,114.0 369.3,112.6 369.1,111.0 368.0,110.0 367.8,108.5 368.8,107.0 368.0,105.5 368.0,104.0" stroke-width="1.2"/>
<polyline points="379.9,105.3 381.4,105.1 383.0,105.4 384.4,104.6 385.4,105.3 387.4,105.9 387.5,107.5 388.5,108.6 388.5,109.7 388.9,111.4 388.0,112.5 387.4,113.7 387.0,115.0 385.8,116.8 384.3,115.8 382.5,116.0 381.2,115.0 380.1,113.6 380.4,112.0 380.4,110.5 381.0,108.9 379.5,107.6 380.0,106.0" stroke-width="1.2"/>
<polyline points="360.6,117.9 361.5,116.5 362.5,115.2 364.4,116.0 365.3,114.3 366.9,115.4 368.9,114.2 371.0,115.2 369.8,117.0 370.5,118.3 372.3,119.2 371.8,120.8 372.2,122.2 372.9,123.5 373.4,124.9 373.3,126.4 373.9,127.7 374.1,129.2 373.2,130.3 373.4,132.0 372.8,133.3 371.9,134.3 371.8,135.8 370.6,135.8 368.7,136.1 367.3,135.5 367.0,133.9 364.7,133.6 364.6,131.9 363.6,130.7 362.9,129.4 361.6,128.8 360.3,128.2 358.6,127.6 358.5,125.6 358.1,124.1 359.0,122.9 358.6,121.1 359.2,119.8 360.2,118.7 360.2,117.1" stroke-width="1.2"/>
<polyline points="376.4,112.8 377.7,111.2 379.4,112.2 380.7,110.9 382.2,111.6 383.8,111.0 385.2,111.8 386.7,112.0 389.2,112.2 387.5,113.3 388.2,114.9 387.2,116.1 386.2,117.3 386.3,118.7 385.4,119.9 385.6,121.5 384.6,122.6 384.6,124.1 383.5,125.3 383.6,126.9 381.6,127.7 382.3,129.5 381.3,130.5 379.7,131.5 377.9,132.4 378.2,130.8 377.3,129.6 377.0,128.1 375.4,127.2 374.8,125.6 374.6,124.2 376.1,122.8 375.7,121.3 374.7,119.9 375.4,118.5 375.5,117.1 375.7,115.4 376.3,113.7 376.3,112.0" stroke-width="1.2"/>
<polyline points="375.4,134.0 375.3,135.5 375.6,136.9 375.2,138.4 375.6,139.8 375.6,141.3 376.2,142.7 376.1,143.8 376.1,145.6 377.9,146.3 377.8,148.2 378.9,149.4 380.3,149.5 381.3,150.7 382.8,150.4 383.9,150.9 385.3,150.1 385.7,148.4 386.6,147.2 386.8,145.1 388.8,145.3 390.3,144.0 391.3,145.6 391.4,147.8 392.6,148.5 393.7,149.3 394.2,150.6 395.3,151.4 396.0,152.7 395.7,154.2 397.4,155.2 396.1,157.0 396.9,158.2 397.3,159.7 399.1,160.1 399.6,162.0 401.4,162.1 402.1,163.9 403.6,164.4 404.3,166.2 406.6,165.7 407.1,167.4 408.2,168.7 410.2,170.1 410.2,168.0 410.9,166.3 411.1,164.9 411.7,163.6 411.5,162.2 410.8,160.9 411.5,159.5 410.9,158.1 411.3,156.6 410.7,155.3 409.9,153.9 409.8,152.5 411.2,150.8 409.1,149.5 409.9,147.6 409.7,146.3 410.4,144.9 412.0,144.7 412.8,143.4 414.7,143.3 416.0,142.3 417.7,140.3 417.6,142.1 419.1,142.6 419.3,144.1 419.9,145.3 421.0,146.0 421.2,147.5 422.5,148.6 423.1,149.9 422.7,151.6 423.5,152.9 424.6,154.1 424.8,155.8 426.2,156.6 426.5,158.0 428.1,158.9 428.4,160.2 428.6,161.6 428.1,162.6 427.6,163.9 428.0,165.4 427.3,166.6 427.0,167.6 425.8,168.5 424.2,168.7 423.0,169.9 421.3,169.6 419.0,169.4 418.2,171.1 418.2,173.7 416.2,173.9 414.5,174.8" stroke-width="1.2"/>
<polyline points="349.8,157.1 351.3,157.6 352.6,157.0 353.6,155.9 354.5,155.7 356.5,155.2 356.7,153.5 357.4,152.1 358.7,150.9 358.2,149.3 356.5,148.6 356.6,146.8 354.9,146.1 354.9,144.2 353.7,143.2 352.0,142.4 351.7,140.8" stroke-width="1.1"/>
<polyline points="367.1,151.7 368.3,150.4 369.7,150.7 370.9,149.9 372.2,149.6 373.6,149.6 374.9,150.2 376.4,149.9 377.6,150.9 378.9,151.3 380.3,151.4 381.8,151.0 383.5,151.7 384.0,153.1 384.5,154.4 384.4,156.1 385.5,156.7 384.6,157.9 383.7,159.1 382.4,159.6 380.7,159.8 380.1,160.7 378.6,161.3 377.3,161.1 376.0,160.8 374.7,160.1 373.4,159.7 371.7,160.3 371.1,158.9 369.4,158.6 369.1,156.9 367.3,156.1 367.8,154.3 367.0,152.7 367.0,151.0" stroke-width="1.2"/>
<polyline points="392.5,113.9 393.9,113.6 394.7,112.0 396.6,112.4 397.3,111.9 399.0,112.4 400.6,112.0 401.4,113.3 400.6,114.8 402.2,116.0 401.5,117.5 402.5,118.5 401.8,120.4 402.7,121.6 402.8,123.1 404.5,124.0 403.9,125.7 404.2,127.2 405.9,128.3 406.3,129.8 406.4,132.3 404.5,132.8 402.4,132.8 401.7,134.6 399.7,133.7 398.8,135.2 397.7,136.2 396.1,137.1 393.4,137.8 393.2,135.7 391.5,134.1 392.5,132.6 391.8,131.2 391.3,129.9 391.8,128.4 392.0,127.0 392.3,125.6 390.8,124.2 391.6,122.8 390.9,121.3 392.4,119.9 390.9,118.5 391.5,117.1 392.3,115.5 392.4,113.7" stroke-width="1.2"/>
<polyline points="404.3,112.1 404.9,110.4 407.2,111.0 408.1,110.5 409.2,109.5 409.6,106.7 411.2,107.1 412.7,107.1 414.8,109.3 416.3,107.8 417.9,107.0 419.0,108.0 420.9,106.3 421.5,108.9 422.6,109.0 425.0,108.9 425.7,110.5 426.6,111.7 426.9,114.3 429.2,112.8 431.1,112.2 430.9,115.6 432.1,116.4 434.3,115.2 434.9,117.3 436.0,118.9 438.0,117.1 438.9,118.6 440.4,118.6 441.6,119.0 442.9,119.4 443.8,121.0 445.0,121.7 446.0,122.0 448.7,119.8 448.7,123.0 451.3,121.0 452.7,121.9 454.0,122.7 455.4,123.3 455.9,125.3 457.7,125.0 458.4,126.8 458.8,129.1 461.0,128.0 463.0,127.6 462.8,130.7 464.5,130.8 466.6,130.5 467.2,131.8 468.9,131.8 470.3,133.4 472.0,135.2 473.3,132.2 474.7,133.2 476.0,132.5 477.3,133.9 478.7,134.9 480.2,132.2 481.8,132.2 483.1,133.3 484.5,134.4 486.0,134.3 487.4,135.1 488.9,133.7 490.3,135.0 492.9,134.2 492.2,136.4 494.0,137.1 493.1,139.4 495.0,140.0 496.4,141.8 493.9,142.6 494.7,144.2 493.8,145.4 494.0,148.2 491.7,146.8 491.1,148.8 490.1,150.3 488.1,149.5 486.4,151.3 485.3,149.8 483.7,150.6 482.4,150.1 481.0,150.1 480.4,149.5 478.3,147.4 477.9,150.4 476.4,150.1 474.7,150.1 477.0,151.0 477.1,152.1 478.2,152.9 478.7,155.6 480.0,156.0 481.5,155.6 483.5,153.8 484.6,154.7 485.2,157.1 487.1,156.0 488.7,156.1 489.4,157.5 489.4,160.3 492.1,158.5 492.0,161.4 494.8,159.4 494.6,162.0 495.0,163.4 498.2,162.8 497.7,164.9 497.0,167.1 497.8,168.2 499.7,168.4 501.5,169.2 501.3,170.6 502.1,171.8 501.5,172.8 500.8,174.8 498.9,173.2 497.7,173.9 496.7,175.2 495.2,175.2 494.2,173.1 492.3,175.3 491.1,173.7 489.3,175.3 487.7,175.0 487.0,173.0 485.5,173.5 484.3,173.0 483.1,172.5 481.6,172.8 480.6,171.2 479.1,171.5 478.4,168.8 475.9,168.9 475.5,170.9 475.0,172.8 472.0,171.0 471.7,174.0 470.4,175.3 469.0,172.4 467.7,174.6 466.3,171.6 465.1,173.8 464.1,175.5 462.1,173.0 461.1,174.9 460.0,176.1 459.5,176.2 457.0,175.9 457.3,178.4 456.0,178.9 454.9,180.0 453.4,180.8 453.0,182.2 452.1,184.0 453.6,184.3 454.9,183.9 455.5,181.3 457.5,182.4 459.1,182.0 459.5,179.8 461.0,179.3 462.1,178.2" stroke-width="2.2"/>
<polyline points="406.0,131.5 411.1,139.1 417.1,140.8"/>
<polyline points="426.7,132.1 427.1,134.0 429.4,133.9 430.0,135.2 431.2,135.9 432.0,137.5 433.7,136.6 434.7,137.6 436.7,137.9 437.7,139.1 438.1,141.3 439.5,141.3 440.7,142.2 442.2,141.9 443.4,142.5 444.9,142.2 446.2,142.7 447.6,142.8 448.8,143.4 449.8,144.5 451.0,145.3 452.1,146.0 453.3,146.1 453.8,147.6 454.8,148.8 457.1,149.1 456.1,151.3 457.4,152.3 458.0,153.5 459.2,154.5 459.5,156.4 459.3,157.7 458.8,159.0 456.8,159.7 457.3,161.1 456.8,162.7 456.7,164.1 458.0,165.1 459.2,166.8 458.3,167.9 455.9,167.6 455.7,169.4 454.9,170.7 452.8,170.6 453.0,173.1 450.7,173.0 451.3,175.2 449.9,176.1 449.7,177.5 447.8,178.3 448.5,179.9" stroke-width="1.2"/>
<polyline points="501.7,173.3 505.0,177.0 510.0,180.0" stroke-width="1.2"/>
<polyline points="416.2,179.8 417.5,180.2 418.5,181.4 419.8,181.8 421.5,181.3 422.3,182.9 423.4,183.9 424.8,184.6 426.7,184.3 427.4,186.4 429.3,186.0 430.3,187.5 432.1,187.2 433.2,188.5 434.6,188.6 435.8,189.4 437.2,189.8 438.5,190.3 439.7,190.5 440.8,191.4 442.2,191.9 443.4,192.6 442.0,193.1 441.0,194.2 440.0,194.7 438.6,195.4 437.3,194.5 435.9,194.6 434.6,195.7 432.9,194.9 432.0,196.3 430.8,197.3 429.5,198.3 428.6,199.4 427.6,200.4 426.3,201.2 426.1,203.1 424.2,204.2 423.3,202.8 422.3,201.6 420.9,200.7 419.6,199.7 419.0,198.1 418.5,196.8 418.2,195.5 417.5,194.2 418.0,192.8 417.4,191.4 417.2,190.1 416.0,189.0 416.0,187.6 415.6,186.3 414.7,184.9 415.5,183.3 416.1,181.6 416.2,179.9" stroke-width="1.1"/>
<polygon points="433.5,201.8 438.0,202.0 440.2,206.0 438.0,210.4 434.0,209.0"/>
<polygon points="448.0,202.0 451.5,202.5 452.9,207.0 450.5,210.4 448.0,208.0"/>
<polygon points="469.4,254.5 472.5,255.0 473.2,259.0 471.0,261.6 469.5,259.0" stroke-width="1.6"/>
<polygon points="467.0,289.0 471.0,287.0 475.8,288.5 474.0,292.0 469.0,292.0"/>
<polygon points="576.3,268.5 583.0,266.5 590.0,266.0 595.4,267.0 590.0,269.4 582.0,270.0 577.0,270.0"/>
<polyline points="413.7,-0.0 413.9,1.4 413.2,2.8 413.2,4.2 414.9,5.4 414.4,6.8 414.3,8.2 414.2,9.6 413.6,11.1 414.4,12.3 414.3,13.2 414.4,14.8 415.1,16.6 414.5,17.9 414.8,19.6 412.8,20.4 413.2,22.2 412.2,23.3 411.9,24.7 411.9,25.5 409.4,26.9 410.9,28.3 409.8,29.8 409.0,31.2 411.0,32.6 410.1,34.0 411.7,35.2 412.1,36.6 410.5,38.3 412.7,39.3 410.2,41.3 412.5,41.8 412.3,44.2 413.2,45.3 416.0,43.9 416.5,45.8 416.1,47.2 416.7,48.6 416.5,50.0 415.9,51.3 415.5,52.6 415.2,54.3 413.4,55.0 412.7,56.3 411.8,57.7 413.3,59.3 410.3,60.2 411.8,61.8 411.6,63.2 411.8,63.8 412.7,65.1 413.2,67.0 414.5,67.7 416.2,69.3 418.0,67.8 419.3,68.7 419.4,70.9 420.6,72.0 421.4,73.5 422.8,74.4 424.8,74.9 426.9,74.8 427.7,71.9 429.0,71.4 430.1,70.6 432.1,72.2 433.7,72.1 433.9,69.7 436.2,70.3 436.6,68.1 438.5,69.0 439.8,66.6 441.6,66.7 443.5,66.5 445.1,67.3 446.7,68.5 448.5,67.9 449.4,69.3 451.5,67.4 452.2,69.6 454.0,68.3 455.3,68.7 456.2,70.2 457.1,72.0 458.4,71.8 459.6,72.7 461.8,72.1 461.8,75.0 463.1,75.8 464.9,75.6 465.8,77.0 467.5,76.9 468.2,78.5 470.1,78.0 471.2,79.0 472.7,78.4 473.6,80.1 475.0,80.1 476.0,81.3 477.0,82.2 478.4,82.4 479.8,82.1 481.0,82.9 483.0,81.9 484.4,82.2 485.5,83.3 486.1,85.0 487.7,85.0 489.0,85.7 490.4,86.0 490.9,87.7 492.7,87.4 493.7,88.3 495.3,88.3 494.9,91.4 497.0,90.6 497.3,92.5 499.4,91.8 499.7,93.6 500.8,94.4 502.3,94.9 502.7,96.3 503.6,97.3 505.3,97.5 505.8,99.0 507.4,99.1 506.9,101.9 509.5,100.7 510.7,101.4 510.7,103.6 512.0,104.1 513.4,104.4 514.6,105.0 514.3,107.5 516.0,107.5 517.0,108.4 518.3,109.0 518.3,111.1 521.0,109.8 521.5,111.3 522.6,112.1 523.6,112.9 524.0,114.6 524.8,115.8 526.3,116.0 528.3,115.5 529.5,116.1 529.9,117.9 530.8,119.0 532.1,119.4 533.4,119.8 534.3,121.1 535.8,121.2 537.5,121.0 538.7,121.7 539.8,122.7 541.1,123.2 542.4,123.6 542.8,125.9 545.0,124.7 546.5,124.8 546.9,127.2 548.1,128.0 549.8,127.7 550.9,128.5 552.2,129.0 553.4,129.6 554.9,129.4 555.9,132.0 557.6,130.9 559.0,131.3 560.5,130.6 561.7,132.7 563.0,130.5 564.3,130.2 565.8,130.3 567.3,130.6 568.7,130.5 569.8,129.7 570.8,128.3 573.3,129.9 573.9,127.9 575.3,127.3 577.0,127.5 578.0,126.0 579.0,124.5 580.6,124.5 581.8,123.3 584.0,124.9 584.0,122.3 585.2,121.3 586.8,120.7 588.7,119.7 586.7,119.3 586.9,117.3 585.6,116.4 585.7,114.6 583.6,114.2 582.6,113.2 581.7,112.2 582.7,109.9 582.6,108.3 579.4,108.7 579.3,107.2 578.7,105.9 578.6,104.4 577.1,103.8 577.0,102.3 576.7,100.9 574.3,100.8 575.0,98.8 573.8,98.0 572.1,97.6 571.5,96.4 571.4,94.8 570.2,94.0 571.0,91.7 568.3,92.1 569.4,89.6 567.1,89.7 567.5,87.2 565.1,88.1 564.9,86.1 563.5,85.6 562.7,84.3 560.5,85.0 559.3,83.7 560.1,81.7 558.1,81.1 558.9,79.1 556.9,78.6 557.6,76.7 555.1,76.4 556.5,74.1 554.9,73.3 553.8,72.0 554.9,70.4 554.7,68.9 554.3,67.5 552.4,66.4 552.8,64.9 553.8,63.1 551.5,62.5 552.5,60.8 552.0,59.6 550.9,58.5 552.0,56.8 550.7,55.8 550.2,54.6 549.8,53.4 549.1,52.2 548.6,50.9 548.0,49.6 548.7,47.7 545.8,47.6 546.4,45.7 545.9,44.4 544.7,43.4 544.4,41.9 543.6,40.6 543.3,39.2 544.6,37.5 542.5,36.4 544.2,34.6 543.8,33.3 542.0,31.9 544.5,30.4 543.5,29.0 543.3,27.6 542.4,26.2 541.9,24.7 543.2,23.3 544.1,21.4 541.1,21.0 542.4,18.9 539.8,18.3 540.0,16.6 539.0,16.0 538.3,14.8 537.8,13.4 537.3,11.9 535.1,12.2 534.6,10.8 533.6,9.9 533.0,9.5 532.0,7.9 530.8,7.2 529.6,6.1 528.3,5.8 526.9,5.3 525.5,5.3 523.9,5.9 522.2,7.4 521.2,4.8 519.5,5.6 517.9,6.7 516.6,5.7 515.3,4.5 513.8,4.7 512.6,3.4 511.1,3.4 509.6,3.2 508.3,2.8 507.0,2.1 505.3,3.1 503.9,3.2 502.3,3.8 501.7,0.5 500.3,0.4 498.9,0.3 497.3,1.0 495.7,1.9 494.6,0.4 493.3,0.0" stroke-width="2.0"/>
<polyline points="500.0,2.0 503.0,8.0 506.0,4.0 509.0,12.0 512.0,6.0 516.0,14.0 520.0,8.0 524.0,16.0 527.0,10.0 530.0,20.0 533.0,26.0" stroke-width="1.2"/>
<polyline points="488.0,85.0 491.0,90.0 494.0,86.0 498.0,92.0 503.0,96.0 506.0,102.0 512.0,104.0 516.0,110.0 521.0,112.0 527.0,118.0 532.0,121.0 538.0,124.0 545.0,126.0 550.0,128.0" stroke-width="1.2"/>
<polygon points="483.0,88.0 490.0,92.0 487.0,96.0 482.0,94.0"/>
<polyline points="573.3,0.0 573.7,1.5 571.9,2.7 571.8,4.2 571.9,5.6 571.5,7.0 572.9,8.7 571.2,9.8 571.9,11.7 570.8,12.9 570.0,14.2 569.9,15.7 568.8,16.9 568.4,18.2 570.0,18.6 570.6,20.0 571.3,21.3 571.9,22.7 573.1,23.7 574.9,23.5 575.8,25.2 577.3,25.5 578.8,25.9 580.5,25.7 582.0,27.4 583.4,26.8 584.2,25.1 585.9,25.0 587.4,24.7 589.0,23.8 589.4,22.4 590.2,21.3 590.2,19.6 592.2,19.3 592.8,18.1 593.3,16.7 594.4,15.7 594.8,14.4 595.4,13.2 595.4,11.8 595.4,10.5 596.0,9.2 595.4,7.7 596.5,6.8 595.9,5.5 595.3,4.2 594.9,2.9 595.9,1.2 595.0,0.0" stroke-width="1.2"/>
<polyline points="569.0,16.0 573.0,13.0 576.0,18.0 580.0,20.0"/>
<polyline points="516.3,189.8 517.6,190.2 518.9,190.6 520.3,190.9 521.2,192.4 523.3,191.0 524.4,192.0 525.3,193.4 527.1,192.8 527.8,194.7 529.4,194.6 530.0,196.6 532.1,195.7 532.6,197.8 533.7,198.7 535.9,197.6 537.2,198.2 538.8,198.2 539.7,199.5 541.0,200.1 541.9,201.4 542.6,203.3 544.8,202.1 545.3,203.8 547.1,204.0 548.2,205.0 549.4,205.7 549.2,208.0 550.6,209.7 552.4,207.8 553.3,209.6 554.6,209.9 555.9,210.2 557.4,209.6 558.8,209.1 559.7,211.2 561.1,210.8 562.4,211.1 563.4,212.6 565.2,211.2 566.4,211.8 567.6,212.4 569.2,214.8 570.0,212.9 571.3,212.6 572.8,213.0 573.6,211.2 574.6,210.1 576.0,210.3 577.0,209.1 579.2,210.2 580.6,209.8 581.6,208.1 583.5,208.2 584.7,209.3 585.9,210.3 586.3,211.3 588.0,212.0 589.3,210.2 591.0,211.3 592.5,210.8 594.7,210.1 595.9,211.2 596.4,213.2 597.6,214.2 599.8,214.1 600.2,215.6 600.4,217.4 602.1,217.6 602.3,218.9 602.6,220.3 604.5,221.0 605.9,221.9 607.0,223.1 605.7,225.0 605.2,226.6 606.9,227.4" stroke-width="1.5"/>
<polyline points="603.0,226.1 602.1,227.1 601.2,228.2 599.9,228.7 599.3,230.0 599.5,231.7 598.4,233.1 599.0,234.9 597.2,236.2 597.5,237.5 598.3,239.0 597.8,240.2 596.4,241.3 596.5,242.6 596.5,243.9 596.4,245.3 595.4,246.4 595.0,247.7 595.6,249.3 594.1,250.2 594.3,251.9 592.8,252.1 592.5,253.9 590.7,253.8 590.2,255.4 588.5,255.4 587.5,256.0 586.5,257.2 585.4,258.1 584.1,258.6 582.5,258.1 581.3,259.0 580.1,259.6 579.0,260.2 578.4,261.7 576.9,261.9 576.4,263.4 574.9,263.5 573.8,264.2 573.1,265.7 571.6,265.7 570.4,266.3 569.7,267.6 568.5,268.2 567.1,268.4 565.6,269.1 566.1,270.9 565.6,272.3 564.0,273.1 563.7,274.5 564.3,276.0 562.9,277.5 564.0,279.1 563.4,280.6 564.1,282.3 562.5,283.2 562.8,284.7 562.7,286.1 561.5,287.1 561.8,288.6 561.7,290.0 560.8,291.1 559.6,292.1 560.3,293.8 558.9,294.7 559.0,296.1 557.8,297.2 558.1,298.7 557.9,300.0 556.9,301.1 556.8,302.4 557.1,303.9 555.5,304.9 555.3,306.4 555.0,307.8 554.8,309.3 555.3,310.8 555.5,312.3 554.4,313.7 554.6,315.2 555.4,317.1 554.7,319.0 555.5,317.2 557.4,316.5 557.1,315.1 558.2,314.0 558.2,312.7 557.7,311.2 558.6,310.1 559.5,309.0 558.9,307.5 560.2,306.4 559.4,304.8 560.9,304.0 561.3,302.6 561.5,301.1 563.0,300.3 563.5,298.9 563.6,297.4 564.7,296.6 565.1,295.3 565.7,294.1 565.9,292.6 567.9,292.4 567.6,290.6 569.0,290.0 568.9,288.3 570.4,287.8 571.4,286.8 571.6,285.4 572.2,284.2 573.1,283.2 574.2,282.7 575.1,281.2 576.6,280.5 577.9,279.6 579.0,278.7 580.4,278.7 581.5,278.0 582.6,276.7 584.4,276.9 584.3,278.3 584.4,279.6 585.0,280.8 584.9,281.9 584.0,283.2 583.5,284.8 582.6,286.1 581.7,287.6 579.7,287.6 579.1,289.5 577.5,289.9 576.4,291.5 577.6,290.8 578.8,290.3 580.3,290.7 581.1,289.2 582.6,289.0 583.9,288.5 585.5,288.4 586.8,286.5 587.5,288.3 589.2,288.1 590.0,289.8 591.8,289.4 592.8,290.5 594.5,290.4 595.1,292.3 596.4,292.9 598.1,292.8 598.9,294.2 600.5,294.3 601.8,294.9 603.4,294.9 604.0,292.9 605.3,292.2 607.2,292.9 608.4,292.2 609.7,291.7 611.0,290.9 611.7,289.2 613.2,288.9 614.3,288.1 616.0,288.3 617.1,287.2" stroke-width="1.1"/>
<polyline points="548.3,303.8 552.0,305.0 556.0,305.0"/>
<polyline points="597.2,296.9 597.8,298.3 598.2,300.0 600.1,300.2 601.0,301.3 601.3,302.7 601.9,304.1 603.0,305.1 603.0,306.7 603.8,307.4 603.6,308.9 603.6,310.4 602.5,311.5 601.8,312.7 601.9,314.3 601.2,315.6 599.2,316.2 599.8,317.7 598.9,319.5 600.4,320.8 599.7,322.6 600.2,324.6 601.4,325.4 602.8,325.8 604.5,325.8 605.0,326.1 606.4,325.6 607.0,324.3 608.3,323.7 609.4,322.9 609.3,321.5 610.2,320.4 611.1,319.3 610.8,317.8 611.1,316.5 611.7,315.3 611.0,313.8 612.4,313.0 612.2,311.2 613.5,310.5 614.6,309.7 614.3,307.9 615.9,307.4 616.8,306.4 616.8,304.7 618.4,304.4 619.3,303.3 619.1,301.5 620.7,301.0 621.7,300.1 621.7,298.6 622.9,297.6 622.5,296.1 623.5,295.0 623.5,293.6 623.4,292.2 624.8,291.2 625.0,289.7 624.6,288.4 624.4,287.0 623.2,286.0 623.6,284.5 622.6,283.4 622.4,281.5 620.6,282.0 619.3,281.4 618.5,280.0 617.7,279.7 616.4,280.8 616.2,282.1 616.0,283.4 615.8,284.7" stroke-width="1.2"/>
<polyline points="590.0,296.0 594.0,298.0 596.0,302.0 592.0,304.0" stroke-width="1.2"/>
<polyline points="605.0,297.0 610.0,295.0 614.0,296.0"/>
<polyline points="607.7,220.9 607.3,222.3 607.0,223.7 608.6,224.7 607.2,226.4 609.1,227.3 609.7,228.5 609.2,229.9 609.8,231.1 609.2,232.6 608.9,234.0 609.2,235.3 610.2,236.4 611.1,237.6 610.3,239.1 611.6,240.2 612.9,241.3 612.9,242.8 611.4,244.4 613.8,245.6 612.3,247.3 613.2,248.6 613.7,250.1 614.1,251.4 614.1,252.7 614.0,254.1 615.1,255.2 613.3,257.0 615.1,257.9 615.1,259.3 614.9,260.7 615.7,261.8 616.0,263.1 615.8,264.6 617.4,266.0 619.0,265.4 620.1,264.3 621.1,263.1 622.1,261.8 622.2,259.9 624.5,260.1 625.2,258.7 625.7,257.2 626.5,256.0 628.5,255.9 629.4,254.8 629.4,252.7 631.3,252.7 631.9,250.9 633.3,250.4 635.3,250.9 635.5,248.3 637.8,249.1 638.4,247.5 639.0,246.2 639.8,245.1 642.3,245.7 642.6,243.6 643.7,244.6 645.0,245.1 646.2,245.4 647.8,243.9 648.6,244.7 650.3,244.6 651.3,243.3 652.0,242.8 653.2,241.3 652.3,240.1 652.7,238.7 651.6,237.6 651.8,235.5 649.9,236.2 648.7,235.3 647.5,234.5 646.6,233.0 645.2,232.8 643.7,233.2 642.3,233.0 641.4,231.5 640.2,230.9 638.9,231.0 637.9,229.6 635.8,230.1 634.9,228.8 633.7,229.2 632.5,229.9 630.9,228.9 630.3,230.7 629.1,231.7 627.6,232.3 625.9,232.8 624.8,233.9 623.5,234.6 622.1,234.9 620.8,235.6 619.5,236.5 618.5,235.4 617.1,235.5 614.7,235.8 615.2,233.8 614.1,232.7 614.5,230.7 612.9,229.9 611.1,229.2 611.0,227.6 610.7,226.1 610.9,224.5 608.9,224.1 608.0,222.5 606.9,221.1" stroke-width="1.3"/>
<polyline points="640.0,234.0 645.0,238.0 649.0,236.0 646.0,241.0" stroke-width="1.2"/>
<polyline points="500.0,205.8 505.1,210.9 510.2,210.9 515.3,208.3 517.8,203.3 519.1,195.6"/>
<polyline points="462.1,178.2 467.0,176.5 470.0,174.8"/>
<polygon points="447.6,172.5 452.0,171.8 456.0,174.0 458.7,178.0 455.0,183.3 450.0,183.0 447.6,178.0"/>
<polygon points="440.0,147.6 444.0,147.4 448.5,152.0 447.5,157.8 442.5,157.5 440.0,153.0"/>
<polyline points="206.1,310.3 205.2,311.6 205.2,313.1 204.7,314.5 204.5,316.0 204.6,317.5 204.3,318.9 204.4,320.4 204.2,321.8 203.7,323.2 203.7,324.6 204.0,326.1 203.3,327.4 203.9,328.9 203.1,330.2 202.9,331.7 203.3,333.2 202.9,334.5 202.4,335.7 201.8,336.9 201.5,338.2 201.4,339.6 200.8,340.8 199.5,341.8 199.2,343.2 199.0,344.7 198.3,345.9 197.6,347.1 196.3,348.1 195.6,349.4 195.9,351.1 194.8,352.2 193.9,353.3 193.9,354.9 192.8,356.0 192.8,357.4 191.8,358.5 191.4,359.8 190.8,361.0 190.6,362.4 190.2,363.7 189.5,364.9 189.3,366.3 188.4,367.5 187.7,368.7 187.4,370.1 186.3,371.2 185.6,372.4 185.5,373.9 184.7,375.1 183.9,376.3 183.7,377.8 182.3,378.7 182.1,380.2 181.1,381.3 180.6,382.6 180.1,384.0 180.2,385.3 179.8,386.6 179.0,387.7 179.0,389.1 178.9,390.4 178.3,391.6 177.9,392.8 177.9,394.1 177.6,395.5 177.2,396.9 176.8,398.3 177.3,399.8 177.2,401.2 176.5,402.6 176.6,404.1 176.4,405.5 176.2,406.9 176.3,408.3 177.2,409.7 177.1,411.1 177.2,412.5 177.3,413.9 177.0,415.4 177.5,416.8 177.2,418.2 177.9,419.5 178.3,421.0 178.4,422.6 178.0,424.2 178.4,425.7 178.5,427.1 179.1,428.6 178.6,429.8 178.1,431.0 178.1,432.4 178.0,433.7 177.6,434.9 178.2,436.3 177.7,437.7 177.7,439.2 178.2,440.5 178.6,441.9 179.0,443.3 178.9,444.8 178.4,446.2 178.8,447.6 179.6,449.0 179.6,450.5 179.2,452.0 179.7,453.4 179.7,454.9 179.8,456.4 180.5,457.7 180.3,459.1 181.1,460.3 181.3,461.6 181.6,462.8 181.9,464.1 182.5,465.3 182.5,466.6 182.6,467.9 183.2,469.2 183.8,470.3 184.7,471.4 185.7,472.2 186.3,473.5 186.8,474.7 187.9,475.4 189.2,476.2 190.1,477.7 191.6,478.3 193.1,478.8 194.5,479.8 194.9,481.2 194.4,482.7 194.8,484.1 195.3,485.5 196.4,486.7 197.8,487.4 199.7,487.8 199.8,489.3 200.3,490.6 201.2,491.7 201.8,493.0 201.6,494.5 202.6,495.6 203.1,496.9" stroke-width="1.1"/>
<polyline points="208.2,312.7 211.0,316.0 213.3,317.8 217.1,322.9 215.8,330.5 213.3,333.1 211.0,328.0 212.0,322.0" stroke-width="1.6"/>
<polyline points="200.0,300.0 203.0,305.0 205.6,310.2" stroke-width="1.2"/>
<polyline points="205.0,301.0 209.0,304.0 212.0,300.0 214.0,305.0" stroke-width="1.1"/>
<polyline points="202.7,252.6 200.0,256.0 203.0,259.0 199.0,262.0 202.0,265.0 199.0,268.0 203.0,271.0 200.0,274.0 204.0,277.0 201.0,280.0 205.0,283.0 202.0,287.0 204.0,291.0 203.0,295.0 207.0,298.0 205.0,301.0" stroke-width="1.3"/>
<polyline points="197.0,284.0 198.0,290.0 200.0,295.0 199.0,299.0 203.0,303.0"/>
<polyline points="214.0,312.8 221.1,316.2 240.0,325.4 254.0,329.6 270.5,332.7 287.0,337.5 303.6,341.6 320.0,344.0 336.7,345.4 355.6,346.0 382.3,345.6 396.3,345.3 398.9,347.8 400.0,347.5 406.7,347.5 413.3,349.2 420.0,350.8 426.7,350.0 431.7,350.8 435.8,348.3"/>
<polyline points="435.8,348.3 437.5,343.3 440.0,339.2 445.0,338.3 453.3,338.3 456.7,341.7 460.0,345.8 463.3,344.2 465.8,346.7 466.7,350.8 469.2,353.3 471.7,355.8 473.3,358.3" stroke-width="1.2"/>
<polyline points="420.0,365.0 425.0,361.7 429.2,360.0 433.3,357.5 438.3,355.0 443.3,353.3 447.5,353.3 445.8,355.8 446.7,359.2 451.7,360.0 456.7,358.3 461.7,356.7 466.7,355.8 471.7,355.8" stroke-width="1.1"/>
<polyline points="418.3,365.0 416.7,370.0 415.3,377.1 416.7,385.6 422.3,387.7 428.0,391.2 429.4,397.6"/>
<polyline points="433.3,365.0 441.7,366.7 448.3,368.3 451.7,371.7 453.3,376.7 451.7,380.0 454.0,385.0 455.8,390.0 455.0,396.7 455.0,403.3"/>
<polyline points="450.0,360.5 456.8,359.4 463.6,357.1 470.4,357.1 473.8,358.3"/>
<polyline points="473.8,357.1 481.7,356.6 488.5,355.5 493.0,354.3 497.5,354.3 502.0,357.1 506.6,357.1 507.7,362.8 504.3,366.2 499.8,363.9 495.2,362.8" stroke-width="1.2"/>
<polyline points="474.9,358.8 483.9,357.7 491.9,359.4" stroke-width="1.4"/>
<polyline points="472.6,362.8 480.5,366.2 483.9,370.7 485.1,376.4 483.9,380.9 485.1,383.2 488.5,378.6 491.9,378.6 494.1,382.0 495.2,387.7 494.1,393.3 494.1,395.6"/>
<polyline points="496.4,366.2 497.5,370.7 498.6,375.2 499.2,379.8 497.5,384.3 496.4,388.8 494.1,393.3"/>
<polyline points="454.5,366.2 455.0,371.0 454.5,375.2 453.4,380.9 454.0,386.0 455.0,390.0 455.0,396.7 455.5,403.0"/>
<polyline points="464.7,366.2 463.6,375.2 463.0,382.0 464.7,388.8 467.0,395.6 468.1,400.1 468.3,403.3"/>
<polyline points="455.0,370.0 460.0,366.7 464.7,366.2"/>
<polyline points="494.1,395.6 498.6,393.3 503.2,388.8 508.8,385.4 514.5,383.2 520.1,380.9 522.4,379.8"/>
<polyline points="493.0,402.4 499.8,401.3 506.6,397.9 511.1,394.5 515.6,391.1 520.1,387.7 524.7,385.4 530.0,384.3"/>
<polyline points="513.3,375.2 517.9,370.7 522.4,368.5 524.7,373.0 522.4,377.5 517.9,379.8 514.5,377.5 513.3,375.2"/>
<polyline points="541.8,342.7 535.4,352.9 526.5,360.5 516.3,368.2 513.8,373.3"/>
<polyline points="541.8,342.7 548.0,342.0 556.0,341.0 562.0,338.0"/>
<polyline points="562.3,306.3 564.9,315.2 563.6,327.9 558.5,338.1 556.0,341.0"/>
<polyline points="576.3,305.0 578.9,312.7 579.0,320.0 583.0,322.0 586.0,322.5"/>
<polyline points="590.2,322.3 587.6,327.4 585.1,334.1 581.7,339.2 578.3,344.3 576.6,349.4 578.0,354.0 581.0,357.0 584.0,358.0 582.0,362.0 578.0,366.0 573.2,371.0 569.8,378.0 568.1,385.1 567.2,391.9 568.1,400.4 568.9,410.2 568.9,425.5 572.3,430.0 576.0,436.0 578.7,442.0 572.3,449.6 567.2,457.2 559.6,464.9 552.0,472.5 546.9,482.7 544.3,492.8 544.3,509.9 545.0,512.0" stroke-width="1.3"/>
<polyline points="584.0,356.0 588.0,357.0 590.0,361.0 586.0,363.0" stroke-width="1.3"/>
<polyline points="556.0,404.0 559.0,410.0 556.0,414.0 560.0,419.0 557.0,424.0 561.0,429.0 558.0,434.0 562.0,439.0 560.0,444.0 564.0,448.0" stroke-width="1.6"/>
<polyline points="563.0,404.0 565.0,410.0 563.0,416.0 566.0,421.0 564.0,428.0" stroke-width="1.3"/>
<polyline points="561.0,383.0 563.0,388.0 561.0,392.0 565.0,396.0 563.0,400.0" stroke-width="1.2"/>
<polyline points="200.6,345.4 210.0,348.5 220.9,352.2 233.6,354.7 241.2,356.0 247.6,359.8"/>
<polyline points="254.0,329.3 251.4,343.3 247.6,358.5 249.8,363.0 241.3,372.0 240.7,375.4 236.2,387.9 235.5,399.0"/>
<polyline points="181.5,378.9 195.4,384.0 210.7,390.3 228.5,396.7 246.3,401.8 261.6,405.6 279.4,409.4"/>
<polyline points="260.3,331.8 261.6,343.3 264.1,354.7 262.9,361.1 265.4,367.4 269.2,373.8 271.8,381.4 284.5,381.4 282.0,396.7 279.4,409.4 279.4,419.6 293.4,422.1"/>
<polyline points="284.5,380.2 310.0,382.7 335.4,385.2"/>
<polyline points="337.9,345.8 336.7,363.6 335.4,385.2 334.1,401.8 333.5,414.0 332.8,427.0"/>
<polyline points="337.8,375.8 358.2,376.6 388.4,376.4"/>
<polyline points="335.3,406.3 358.2,406.3 370.0,407.5 377.1,407.5 381.3,409.6 385.6,408.2 390.5,410.3"/>
<polyline points="382.3,345.3 383.6,355.4 386.2,365.6 388.4,370.0 388.4,378.5 387.0,379.9 390.5,382.7 391.2,388.4 391.2,400.4"/>
<polyline points="391.2,400.0 411.6,398.7 429.4,397.4"/>
<polyline points="391.2,400.4 390.5,405.4 391.2,410.3 394.0,416.7 396.2,423.7 398.3,430.8 399.7,432.2 403.2,436.5 405.4,439.3 407.5,443.6 408.9,449.2 410.3,457.7 410.0,471.0"/>
<polyline points="279.4,418.3 293.4,422.1 312.5,424.7 332.8,427.2 348.0,426.7 348.0,438.1 348.0,468.7"/>
<polyline points="348.0,438.1 370.0,438.6 384.1,438.6 398.3,437.9 403.2,437.9"/>
<polyline points="293.4,422.1 289.6,442.5 285.8,462.8 276.9,527.4"/>
<polyline points="256.5,406.9 254.0,422.1 250.2,437.4 246.3,452.7 245.1,457.8"/>
<polyline points="212.0,390.3 206.9,404.3 201.8,419.6 212.0,437.4 223.4,452.7 232.3,467.9 234.6,470.0"/>
<polyline points="245.1,456.5 241.2,462.8 236.2,465.4 234.6,470.0 233.5,477.9 235.7,484.6 231.2,491.3 226.8,498.0 224.5,501.0"/>
<polyline points="245.1,456.5 264.1,459.0 284.5,462.8 312.5,466.7 335.4,469.0 363.3,470.0 404.0,468.7 409.1,468.7"/>
<polyline points="335.4,469.0 335.4,523.6 302.3,523.6"/>
<polyline points="335.4,475.5 364.5,476.3 364.5,495.4"/>
<polyline points="364.4,495.4 368.2,500.5 380.9,503.1 391.1,505.6 401.2,503.1 411.4,504.4 420.3,508.2 421.6,520.9 425.4,531.1 426.7,541.2 428.0,548.9"/>
<polyline points="409.1,468.7 409.8,480.0 410.6,492.0 411.4,504.4"/>
<polyline points="410.0,471.2 434.5,470.0 452.3,468.7 457.0,468.0"/>
<polyline points="420.3,510.7 447.0,510.7"/>
<polyline points="429.4,397.6 432.2,402.5 437.9,406.8 440.0,411.0 439.3,415.3 435.1,419.5 434.4,423.7 432.2,427.3 432.9,432.2 436.5,436.5 440.7,439.3 443.6,443.6 446.4,447.8 448.5,450.6 453.5,453.5 456.3,456.3 457.7,460.5 457.0,466.5 455.6,473.6 454.1,479.2 452.7,484.9 449.9,491.9 447.8,500.0 446.0,510.0 447.0,513.3 447.8,531.1 464.4,528.3 465.6,531.7 467.8,537.2 470.0,540.0"/>
<polyline points="399.7,431.5 412.4,429.4 432.2,427.3"/>
<polyline points="437.9,406.1 449.2,404.7 456.3,403.2"/>
<polyline points="456.3,402.5 460.5,409.6 461.9,416.7 464.8,429.4 466.2,437.9 467.6,445.0 466.2,450.0"/>
<polyline points="461.2,410.6 468.3,408.5 479.6,405.7 482.4,404.2 490.9,401.4"/>
<polyline points="479.6,405.7 482.4,412.7 485.3,421.2 488.1,429.7 489.5,434.0"/>
<polyline points="457.7,460.5 462.0,455.0 466.2,450.0 471.1,448.1 476.8,445.3 481.0,442.4 483.8,438.2 486.7,435.4 489.5,434.0 493.7,432.5 499.4,431.1 505.1,430.4 509.3,432.5"/>
<polyline points="516.4,396.0 517.8,408.5 515.0,417.0 512.1,424.0 510.0,428.3 509.3,432.5 509.3,434.0 513.5,439.6 517.8,442.4 520.0,439.6 527.7,434.0 532.0,428.3 533.4,421.2 537.6,417.0 539.0,411.3 540.0,408.5"/>
<polyline points="517.8,408.5 536.7,410.2 541.8,410.2 554.5,406.3"/>
<polyline points="513.8,393.6 541.8,379.6 549.4,377.1 557.0,380.9"/>
<polyline points="440.0,469.3 459.8,465.1 480.0,460.4 505.4,455.3 524.5,448.9 543.6,443.2 551.2,440.0 566.0,436.5"/>
<polyline points="506.7,454.0 511.8,446.4 515.0,441.3 517.8,442.4"/>
<polyline points="504.2,471.2 505.4,468.0 511.8,462.9 516.9,457.8 520.7,455.3 522.0,450.2"/>
<polyline points="454.1,484.9 473.9,480.6 480.0,478.8 494.0,476.3 505.4,473.1 513.7,471.2 518.2,467.4 524.5,464.8 530.9,463.5 536.0,464.2 539.8,462.9 544.9,462.3 551.2,464.8 557.6,467.4"/>
<polyline points="513.7,471.8 518.2,475.6 523.3,479.4 529.6,482.6 533.4,485.8 538.5,489.6 542.3,493.4 544.9,494.7"/>
<polyline points="472.5,480.6 473.2,500.0 476.3,520.9 478.9,533.6"/>
<polyline points="494.0,476.3 496.5,482.0 500.4,490.9 505.4,498.5 506.7,503.6 508.0,508.7 509.9,516.3 510.5,518.9"/>
<polyline points="485.1,524.6 495.3,522.1 505.4,520.2 510.5,520.2 518.2,517.6 525.8,516.3 533.4,515.1 538.5,514.4 539.8,516.3 541.1,512.5 544.9,512.5"/>
<polyline points="391.5,597.2 390.5,595.7 390.7,594.3 391.2,592.8 390.4,591.4 391.5,589.9 390.3,588.5 390.6,587.0 391.4,585.5 391.6,584.0 390.9,582.4 391.9,580.9 391.7,579.6 391.1,578.0 391.5,576.7 392.9,575.8 393.1,574.4 393.8,573.3 393.0,571.4 394.4,570.7 394.9,569.5 395.8,568.5 396.8,567.6 397.5,566.4 397.5,564.9 399.0,564.6 400.1,563.5 401.5,562.8 402.6,561.7 403.9,561.0 405.4,560.5 406.6,559.5 407.4,558.3 408.2,557.3 409.4,556.6 410.4,555.7 411.8,555.5 412.5,554.2 414.0,554.0 414.9,552.6 416.9,552.5 417.7,551.0 419.2,550.7 420.7,550.5 422.2,550.2 423.8,550.2 425.2,549.1 426.7,549.2 428.2,548.9 429.7,549.2 431.0,548.2 432.6,548.4 434.0,548.4 435.5,548.1 436.8,548.3 438.5,547.5 440.1,547.6 441.8,547.6 443.2,548.1 444.5,547.6 445.7,546.5 446.9,547.7 448.7,547.3 449.7,548.8 450.8,549.5 452.3,549.7 453.5,550.4 454.5,551.3 455.9,551.6 456.9,553.5 458.0,551.9 459.5,551.6 461.2,551.8 462.3,551.1 463.1,549.9 464.1,548.9 465.1,548.0 466.8,548.1 467.9,547.5 469.3,546.3 471.2,545.9 472.4,546.6 473.3,547.6 474.6,548.1 475.6,549.4" stroke-width="1.2"/>
<polyline points="470.0,535.6 475.6,533.9 481.1,532.8 486.7,530.6 492.2,528.3 500.5,528.5 504.6,528.9 510.6,531.0 515.7,532.0 520.7,528.0 527.5,527.5 534.3,531.0 538.6,536.0 541.1,542.0 545.4,549.0 549.6,556.0 554.7,561.0 561.5,566.0 566.6,571.0 568.0,576.0 563.0,580.0 559.0,583.0" stroke-width="1.2"/>
<polyline points="468.9,542.8 471.1,540.6 472.2,537.2 475.6,538.3 474.4,542.8 472.2,545.0" stroke-width="1.4"/>
<polygon points="457.8,538.0 462.0,537.2 466.7,539.0 462.0,540.6" stroke-width="1.1"/>
<polygon points="444.0,546.0 446.0,545.0 448.0,546.5 446.0,548.0"/>
<polyline points="544.3,509.9 545.5,510.8 545.3,512.4 546.7,513.3 546.8,514.7 548.2,515.5 548.6,516.9 548.9,518.2 549.5,519.5 549.9,520.8 551.1,521.7 551.9,522.7 552.8,523.7 553.4,525.0 554.3,526.0 555.8,526.4 556.3,527.8 557.6,528.5 558.7,529.3 559.2,530.7 560.4,531.4 560.8,532.7 561.8,533.6 562.5,534.7 563.3,535.8 563.3,537.3 564.1,538.4 565.1,539.5 566.1,540.5 567.1,541.5 568.0,542.6 568.8,543.7 569.9,544.7 571.2,545.6 571.7,547.0 572.3,548.2 572.6,549.7 573.0,551.1 574.0,552.1 574.7,553.4 575.1,554.6 575.2,556.0 575.4,557.3 575.9,558.5 576.5,559.7 576.2,561.1 577.4,562.2 577.4,563.6 577.5,565.2 577.0,566.7 576.3,568.1 576.0,569.6 576.1,571.4 575.0,572.4 573.8,573.1 572.7,574.1 572.2,575.7 570.7,576.1 569.5,577.1 568.3,577.9 566.9,578.6 565.9,579.7 564.4,580.1 562.8,581.0 561.0,580.8 559.4,581.4" stroke-width="1.2"/>
<polygon points="562.0,548.5 567.5,549.0 567.8,554.5 562.5,554.2"/>
<polyline points="203.1,496.9 214.5,498.2 224.7,500.7 231.1,504.5 241.2,510.9 254.0,517.3 266.7,523.6 276.9,527.4 284.5,527.4 285.8,523.6 299.8,523.6 302.3,522.3 307.4,526.2 312.5,533.8 316.3,538.9 317.6,546.5 322.7,554.1 330.3,559.2 337.9,554.1 343.0,550.3 349.9,551.6 358.0,559.1 363.1,569.2 369.4,579.4 373.3,589.6 380.9,594.7 391.1,597.2"/>
<polyline points="393.3,595.0 391.7,610.0 390.0,626.7 390.0,643.3 395.0,653.3 396.7,660.0 401.7,667.0" stroke-width="1.1"/>
<polyline points="203.1,496.9 204.4,505.8 205.6,513.4 206.9,523.6 209.4,531.2 215.8,538.9 219.6,546.5 218.3,555.4 210.7,555.4 208.2,556.7 213.3,561.8 219.6,566.9 224.7,572.0 226.0,575.8" stroke-width="1.1"/>
<polyline points="220.9,509.6 220.9,523.6 222.0,533.0 224.0,541.0 227.0,551.0 231.0,561.0 235.0,569.0 238.7,575.8" stroke-width="1.1"/>
<polyline points="224.7,508.3 231.1,513.4 234.9,521.1 237.4,531.2 241.2,541.4 246.3,551.6 250.2,560.5 252.7,564.3 256.5,572.0 259.1,575.8" stroke-width="1.1"/>
<polyline points="293.3,628.3 298.3,640.0 301.7,650.0 300.0,660.0 296.7,667.0"/>
<polyline points="478.3,667.0 480.0,650.0 486.7,643.3 500.0,638.3"/>
<polyline points="516.7,650.0 517.3,660.0 515.0,667.0"/>
<polyline points="586.1,547.1 589.9,543.3 596.3,540.7 601.3,540.7 606.4,542.0 606.4,548.3" stroke-width="1.4"/>
<polygon points="600.1,562.3 605.2,563.6 611.5,568.7 614.1,575.1 610.2,575.1 605.2,571.2 601.3,567.4" stroke-width="1.3"/>
<polyline points="611.5,552.2 617.9,552.2 623.0,557.3" stroke-width="1.3"/>
<polyline points="620.4,564.9 628.1,568.7 635.7,568.7 643.3,571.2" stroke-width="1.3"/>
<polyline points="626.8,557.3 633.1,559.8 640.8,561.1 643.3,557.3" stroke-width="1.3"/>
<polyline points="651.0,571.2 656.0,568.7 661.1,567.4 666.2,568.7 671.3,568.7 677.7,572.5" stroke-width="1.2"/>
<polyline points="655.0,574.0 657.0,577.0" stroke-width="1.3"/>
<polygon points="668.8,583.0 671.0,579.0 673.9,582.0 671.0,589.1 668.5,587.0" stroke-width="1.1"/>
<polyline points="676.0,619.0 674.0,621.0 676.0,623.4 679.0,622.0" stroke-width="1.1"/>
<polyline points="191.0,174.9 190.0,176.5 190.9,177.9 190.2,179.6 190.3,181.1 192.7,182.3 193.1,183.7 190.1,185.7 192.6,186.9 192.9,188.4 190.0,190.1 192.2,191.5 190.9,193.1 192.4,194.5 191.8,196.0 193.9,197.4 192.1,199.0 191.2,200.6 192.7,202.0 191.9,203.6 192.3,205.0 194.6,206.6 191.8,207.9 192.3,209.5 193.4,211.1 194.4,212.6 190.9,213.9 192.4,215.5 191.3,216.9 190.6,218.4 191.1,219.9 190.2,221.4 192.2,223.0 190.5,224.4 191.8,226.0 189.8,227.4 189.9,228.9 192.9,230.6 192.7,232.1 192.2,233.6 189.2,234.6 190.9,236.5 189.8,237.8 190.8,239.5 189.6,240.8 189.8,242.3 189.6,243.8 188.3,245.0 188.0,246.5 186.4,247.8 187.1,249.3 185.9,250.6 186.0,252.0 185.3,253.3 186.3,254.9 188.1,256.6 185.2,257.6 184.6,258.9 184.6,260.4 186.0,262.0" stroke-width="1.5"/>
<polyline points="195.0,179.7 195.9,181.1 195.2,182.9 196.5,184.2 197.2,185.6 196.3,187.4 194.6,189.4 195.5,190.8 195.9,192.1 198.2,193.3 197.1,194.8 198.2,196.1 198.7,197.5 199.1,198.9 198.7,200.3 196.0,201.9 196.5,203.3 196.7,204.7 196.8,205.9 199.1,207.5 198.6,209.0 197.2,210.3 196.7,211.8 196.1,213.2 195.9,214.6 199.0,216.3 196.9,217.6 196.5,219.0 197.1,220.5 198.3,222.1 197.0,223.5 198.5,225.0 195.0,226.3 195.2,227.7 196.4,229.3 197.3,230.8 194.7,232.1 196.0,233.6 194.7,235.0 194.7,236.5 196.0,238.0 196.1,239.6 195.1,240.9 195.5,242.5 196.3,244.2 195.5,245.6 193.3,246.8 196.1,248.8 194.0,250.0" stroke-width="1.5"/>
<polyline points="197.5,184.2 197.5,185.6 197.8,187.0 197.7,188.6 198.9,189.6 198.6,191.2 202.5,191.4 201.2,193.3 199.9,195.2 201.4,196.0 200.5,197.5 203.7,198.7 202.4,200.2 203.4,201.5 202.3,203.0 202.3,204.4 204.6,205.7 203.9,207.1 203.8,208.5 201.3,209.9 201.8,211.4 204.2,213.0 201.5,214.3 204.1,215.9 202.1,217.2 203.9,218.8 204.4,220.3 200.8,221.5 203.3,223.2 203.2,224.6 200.1,225.9 200.4,227.3 202.6,228.9 199.9,230.1 201.4,231.6 200.8,232.9 202.6,234.5 199.5,235.7 200.4,237.1 199.2,238.5 199.5,239.7 201.5,241.6 201.0,243.0 201.5,244.5 201.2,246.0 201.3,247.5 200.1,248.7 199.0,250.0" stroke-width="1.4"/>
<polyline points="202.0,188.3 202.3,189.8 203.8,191.0 205.0,192.3 206.2,193.6 204.3,195.6 205.4,197.0 204.7,198.7 206.5,200.0 205.1,201.5 207.0,202.7 205.2,204.3 205.6,205.7 206.8,207.0 206.5,208.4 206.0,209.8 207.9,211.1 206.7,212.6 205.9,213.9 207.8,215.5 205.7,216.8 206.1,218.3 205.4,219.7 207.1,221.3 207.9,222.8 205.3,224.1 205.2,225.6 206.4,227.1 207.6,228.6 207.1,230.1 205.4,231.4 206.5,232.9 204.1,234.1 205.3,235.6 206.6,237.1 204.8,238.4 205.8,239.8 203.6,241.1 203.6,242.5 205.0,244.0" stroke-width="1.2"/>
<polyline points="188.4,246.1 188.5,247.7 187.0,248.9 188.1,250.7 186.7,252.0 187.1,253.6 187.7,255.2 186.6,256.8 187.7,258.4 186.7,260.0 187.7,261.4 187.7,262.9 187.1,264.5 187.0,266.0" stroke-width="2.0"/>
<polyline points="205.2,251.2 201.6,253.1 206.0,254.3 203.2,256.2 206.6,257.5 205.9,259.2 202.2,261.2 206.4,262.7 204.1,264.2 204.9,265.8 204.9,267.5 204.6,269.1 206.1,270.8 202.7,272.2 206.4,274.3 205.4,275.7 206.2,277.4 204.6,278.7 203.6,280.1 200.8,281.1 203.2,282.8 205.1,283.8 205.1,285.7 202.3,288.8 207.4,288.4 205.4,291.1 207.3,292.2 206.6,294.4 208.8,295.3 207.8,297.6 209.4,298.8 209.0,300.5 208.1,302.3 210.1,303.5 212.7,304.4 213.5,305.8 209.5,308.7 212.3,309.3 214.3,310.1 211.2,312.9 213.9,313.5" stroke-width="1.2"/>
<polyline points="194.8,285.2 195.6,286.5 196.9,287.6 195.4,289.9 198.4,290.3 197.7,292.5 197.3,294.5 200.2,295.1 199.6,297.3 200.1,298.9 202.2,299.7 201.8,301.5 201.5,303.3 202.7,304.4 202.6,306.2 204.7,306.9 205.1,308.4 204.9,310.1" stroke-width="1.1"/>
<polyline points="42.9,82.2 44.3,82.8 45.2,84.2 47.2,84.3 47.2,86.8 48.3,87.8 49.9,88.4 52.1,88.2 52.6,90.1 54.2,90.6 55.5,91.4 55.3,94.1 56.4,95.1 59.5,93.5 59.1,96.5 60.8,96.8 62.4,97.1 63.8,97.7 64.3,99.6 65.9,100.0 66.7,101.5 67.9,102.3 70.1,101.8 70.2,104.4 71.0,105.8 72.2,106.7 74.1,106.6 76.4,106.0 77.7,106.8 78.6,108.0 78.7,111.1 81.2,110.2 82.5,111.2 83.1,113.5 85.4,112.8 86.5,114.3 88.1,114.8 90.1,114.7 90.7,116.9 91.7,118.5 94.3,117.5 95.6,118.5 96.7,119.9 98.8,119.7 99.4,121.8 100.3,123.6 102.0,124.0 103.7,124.5 104.6,126.3 107.1,125.2 107.9,127.2 109.6,127.4 110.7,128.7 112.8,128.0 113.3,130.6 115.7,129.4 117.0,130.3 117.7,132.9 119.3,133.9 121.4,132.8 123.1,133.2 124.9,133.2 126.5,133.8 127.9,135.4 129.7,134.4 131.3,134.6 132.5,136.0 134.3,135.5 135.4,137.3 136.8,138.2 138.3,138.5 140.0,138.0" stroke-width="1.3"/>
<polyline points="118.1,136.8 119.3,137.6 120.2,139.5 122.0,137.9 123.3,138.4 124.6,139.0 126.2,137.6 127.3,139.2 128.6,139.9 129.8,140.8 131.6,137.9 132.8,139.0 134.6,138.3 134.9,141.8 136.4,141.8 138.7,139.6 138.6,144.0 139.9,144.4 141.7,143.6 143.0,144.1 145.1,142.9 146.6,142.9 146.7,145.5 148.0,146.0" stroke-width="1.6"/>
<polyline points="530.0,346.2 534.0,343.8 537.9,340.8 540.9,343.8 549.8,341.8 555.7,338.8 561.7,335.8 562.7,332.9 564.2,330.9 564.7,325.9 564.2,320.0"/>
<polyline points="562.7,334.9 566.6,338.8 570.6,344.8 574.6,349.7 576.5,353.7"/>
<polyline points="549.8,341.8 553.8,348.7 556.7,354.7 559.7,359.6 561.0,362.6"/>
<polyline points="560.7,362.6 568.6,358.6 576.5,354.2"/>
<polyline points="562.7,368.0 570.6,366.0 577.5,363.6"/>
<polyline points="560.7,362.6 562.7,368.5 564.7,375.4 565.6,381.4"/>
<polyline points="575.5,364.1 577.5,369.5"/>
<polyline points="565.7,383.5 566.8,382.6 567.6,381.4 568.6,380.4 569.4,379.2 571.0,378.8 571.3,377.1 572.1,376.0 573.2,375.1 574.6,374.5 575.9,373.9 576.5,372.5 576.8,371.0 577.9,370.2 578.5,369.1 579.6,368.3 580.5,367.3 581.9,367.0 582.8,365.5 584.4,365.0 585.4,363.6" stroke-width="1.3"/>
<polyline points="578.3,355.3 580.1,355.9 582.2,355.3 583.4,355.9 584.8,356.3 585.8,357.3 587.1,358.0 588.2,359.1 589.0,359.8 588.5,361.3 587.3,362.4 586.5,364.5 586.1,362.9 585.5,361.5 584.1,360.8 582.3,361.1 581.0,360.0" stroke-width="1.3"/>
<polyline points="589.5,320.0 589.2,321.5 588.0,322.8 588.2,324.4 587.9,325.5 588.1,327.7 586.5,328.7 585.3,329.8 584.5,331.3 584.1,333.0 582.6,334.0 581.6,335.2 579.8,336.0 578.8,337.4 579.3,339.4 577.7,340.2 578.0,341.8 577.7,343.8 578.3,345.6 578.0,347.1 577.7,348.5 577.7,350.0 578.1,351.3 578.5,352.7" stroke-width="1.5"/>
<polyline points="667.0,600.0 668.0,601.5" stroke-width="1.2"/>
<polyline points="677.5,601.0 677.8,603.0" stroke-width="1.2"/>
<polyline points="253.7,123.9 255.5,123.0 257.0,123.2 257.8,125.5 259.5,123.5 260.5,124.9 261.7,125.4 263.0,125.9 264.4,124.5 265.5,126.2 266.7,125.9 267.9,127.1 269.4,124.6 270.4,127.7 271.9,125.3 272.8,127.5 274.2,126.8 275.3,128.1 276.9,126.3 277.9,126.9 279.2,126.0 280.8,128.1 282.0,127.0" stroke-width="1.8"/>
<polyline points="257.9,127.7 259.4,126.2 260.2,128.4 261.5,128.1 262.9,127.2 264.0,127.8 265.3,127.0 266.5,127.4 267.6,128.7 268.7,129.1 270.1,127.8 271.2,129.1 272.4,128.4 273.6,128.9 274.7,129.7 276.0,129.0" stroke-width="1.4"/>
</g>
<rect x="7.0" y="668.2" width="31.5" height="16.7" fill="#9DC0E2"/>
<rect x="38.5" y="668.2" width="31.1" height="16.7" fill="#74B2E0"/>
<rect x="69.6" y="668.2" width="32.0" height="16.7" fill="#3A9BDA"/>
<rect x="101.6" y="668.2" width="31.8" height="16.7" fill="#0760AC"/>
<rect x="133.4" y="668.2" width="32.1" height="16.7" fill="#2D3C70"/>
<rect x="165.5" y="668.2" width="31.0" height="16.7" fill="#221A57"/>
<rect x="196.5" y="668.2" width="31.8" height="16.7" fill="#1D1442"/>
<line x1="38.5" y1="668.2" x2="38.5" y2="684.9" stroke="#fff" stroke-width="0.8" stroke-opacity="0.8"/>
<line x1="69.6" y1="668.2" x2="69.6" y2="684.9" stroke="#fff" stroke-width="0.8" stroke-opacity="0.8"/>
<line x1="101.6" y1="668.2" x2="101.6" y2="684.9" stroke="#fff" stroke-width="0.8" stroke-opacity="0.8"/>
<line x1="133.4" y1="668.2" x2="133.4" y2="684.9" stroke="#fff" stroke-width="0.8" stroke-opacity="0.8"/>
<line x1="165.5" y1="668.2" x2="165.5" y2="684.9" stroke="#fff" stroke-width="0.8" stroke-opacity="0.8"/>
<line x1="196.5" y1="668.2" x2="196.5" y2="684.9" stroke="#fff" stroke-width="0.8" stroke-opacity="0.8"/>
<rect x="252.3" y="668.2" width="31.0" height="16.7" fill="#DCD6D7"/>
<rect x="283.3" y="668.2" width="32.0" height="16.7" fill="#B2ACAD"/>
<rect x="315.3" y="668.2" width="31.7" height="16.7" fill="#8F8A8B"/>
<rect x="347.0" y="668.2" width="31.3" height="16.7" fill="#848081"/>
<rect x="378.3" y="668.2" width="32.1" height="16.7" fill="#676263"/>
<rect x="410.4" y="668.2" width="32.0" height="16.7" fill="#524C4E"/>
<rect x="442.4" y="668.2" width="26.2" height="16.7" fill="#393436"/>
<line x1="283.3" y1="668.2" x2="283.3" y2="684.9" stroke="#fff" stroke-width="0.8" stroke-opacity="0.8"/>
<line x1="315.3" y1="668.2" x2="315.3" y2="684.9" stroke="#fff" stroke-width="0.8" stroke-opacity="0.8"/>
<line x1="347.0" y1="668.2" x2="347.0" y2="684.9" stroke="#fff" stroke-width="0.8" stroke-opacity="0.8"/>
<line x1="378.3" y1="668.2" x2="378.3" y2="684.9" stroke="#fff" stroke-width="0.8" stroke-opacity="0.8"/>
<line x1="410.4" y1="668.2" x2="410.4" y2="684.9" stroke="#fff" stroke-width="0.8" stroke-opacity="0.8"/>
<line x1="442.4" y1="668.2" x2="442.4" y2="684.9" stroke="#fff" stroke-width="0.8" stroke-opacity="0.8"/>
<rect x="489.2" y="668.2" width="31.1" height="16.7" fill="#E4AE64"/>
<rect x="520.3" y="668.2" width="31.9" height="16.7" fill="#F7894A"/>
<rect x="552.2" y="668.2" width="32.0" height="16.7" fill="#DD5731"/>
<rect x="584.2" y="668.2" width="31.0" height="16.7" fill="#D02C2A"/>
<rect x="615.2" y="668.2" width="32.3" height="16.7" fill="#D0334B"/>
<rect x="647.5" y="668.2" width="32.0" height="16.7" fill="#8F2C3B"/>
<rect x="679.5" y="668.2" width="31.1" height="16.7" fill="#661E28"/>
<line x1="520.3" y1="668.2" x2="520.3" y2="684.9" stroke="#fff" stroke-width="0.8" stroke-opacity="0.8"/>
<line x1="552.2" y1="668.2" x2="552.2" y2="684.9" stroke="#fff" stroke-width="0.8" stroke-opacity="0.8"/>
<line x1="584.2" y1="668.2" x2="584.2" y2="684.9" stroke="#fff" stroke-width="0.8" stroke-opacity="0.8"/>
<line x1="615.2" y1="668.2" x2="615.2" y2="684.9" stroke="#fff" stroke-width="0.8" stroke-opacity="0.8"/>
<line x1="647.5" y1="668.2" x2="647.5" y2="684.9" stroke="#fff" stroke-width="0.8" stroke-opacity="0.8"/>
<line x1="679.5" y1="668.2" x2="679.5" y2="684.9" stroke="#fff" stroke-width="0.8" stroke-opacity="0.8"/>
<text x="9.4" y="692.8" text-anchor="middle" class="lg">33%</text>
<text x="41.4" y="692.8" text-anchor="middle" class="lg">40%</text>
<text x="73.1" y="692.8" text-anchor="middle" class="lg">50%</text>
<text x="104.3" y="692.8" text-anchor="middle" class="lg">60%</text>
<text x="137.0" y="692.8" text-anchor="middle" class="lg">70%</text>
<text x="169.5" y="692.8" text-anchor="middle" class="lg">80%</text>
<text x="198.5" y="692.8" text-anchor="middle" class="lg">90%</text>
<text x="228.3" y="692.8" text-anchor="middle" class="lg">100%</text>
<text x="253.3" y="692.8" text-anchor="middle" class="lg">33%</text>
<text x="285.8" y="692.8" text-anchor="middle" class="lg">40%</text>
<text x="318.1" y="692.8" text-anchor="middle" class="lg">50%</text>
<text x="349.8" y="692.8" text-anchor="middle" class="lg">60%</text>
<text x="381.3" y="692.8" text-anchor="middle" class="lg">70%</text>
<text x="412.9" y="692.8" text-anchor="middle" class="lg">80%</text>
<text x="444.9" y="692.8" text-anchor="middle" class="lg">90%</text>
<text x="468.8" y="692.8" text-anchor="middle" class="lg">100%</text>
<text x="492.5" y="692.8" text-anchor="middle" class="lg">33%</text>
<text x="523.3" y="692.8" text-anchor="middle" class="lg">40%</text>
<text x="555.2" y="692.8" text-anchor="middle" class="lg">50%</text>
<text x="587.2" y="692.8" text-anchor="middle" class="lg">60%</text>
<text x="618.2" y="692.8" text-anchor="middle" class="lg">70%</text>
<text x="650.7" y="692.8" text-anchor="middle" class="lg">80%</text>
<text x="683.2" y="692.8" text-anchor="middle" class="lg">90%</text>
<text x="709.6" y="692.8" text-anchor="middle" class="lg">100%</text>
<text x="109.2" y="703.5" text-anchor="middle" class="lg2" textLength="75" lengthAdjust="spacingAndGlyphs">Probability of Below</text>
<text x="360.2" y="703.5" text-anchor="middle" class="lg2" textLength="114" lengthAdjust="spacingAndGlyphs">Probability of Near-Normal</text>
<text x="591.6" y="703.5" text-anchor="middle" class="lg2" textLength="74.8" lengthAdjust="spacingAndGlyphs">Probability of Above</text>
<text x="28.9" y="593.7" class="tt" transform="scale(0.85,1)">ONE-MONTH OUTLOOK</text>
<text x="28.9" y="608.5" class="tt" transform="scale(0.85,1)">TEMPERATURE PROBABILITY</text>
<text x="28.9" y="623.4" class="tt" transform="scale(0.85,1)">0.0 MONTH LEAD</text>
<text x="28.9" y="638.4" class="tt" transform="scale(0.85,1)">VALID NOV 2018</text>
<text x="28.9" y="653.2" class="tt" transform="scale(0.85,1)">MADE 31 OCT 2018</text>
<text x="505.6" y="603.4" class="ec">EC MEANS EQUAL</text>
<text x="505.6" y="614.2" class="ec">CHANCES FOR A, N, B</text>
<text x="505.6" y="624.9" class="ec">A MEANS ABOVE</text>
<text x="505.6" y="635.7" class="ec">N MEANS NORMAL</text>
<text x="505.6" y="646.4" class="ec">B MEANS BELOW</text>
<text x="193.49" y="65.00" class="ml" font-size="15.75" textLength="11.59" lengthAdjust="spacingAndGlyphs">A</text>
<text x="186.27" y="73.56" class="ml" font-size="13.68" letter-spacing="1.38" style="stroke-width:0.35px">60</text>
<text x="165.23" y="92.36" class="ml" font-size="13.68" letter-spacing="3.32" style="stroke-width:0.35px">50</text>
<text x="211.23" y="119.47" class="ml" font-size="23.29" textLength="30.73" lengthAdjust="spacingAndGlyphs">EC</text>
<text x="208.26" y="379.00" class="ml" font-size="24.79" textLength="14.57" lengthAdjust="spacingAndGlyphs">A</text>
<text x="259.44" y="349.75" class="ml" font-size="14.61" letter-spacing="2.33" style="stroke-width:0.35px">50</text>
<text x="280.29" y="374.46" class="ml" font-size="14.21" letter-spacing="2.04" style="stroke-width:0.35px">40</text>
<text x="339.44" y="415.47" class="ml" font-size="23.29" textLength="30.62" lengthAdjust="spacingAndGlyphs">EC</text>
<text x="321.24" y="438.86" class="ml" font-size="13.68" letter-spacing="2.85" style="stroke-width:0.35px">33</text>
<text x="352.98" y="465.17" class="ml" font-size="13.16" letter-spacing="3.43" style="stroke-width:0.35px">33</text>
<text x="414.37" y="487.90" class="ml" font-size="24.38" textLength="15.47" lengthAdjust="spacingAndGlyphs">B</text>
<text x="429.68" y="520.86" class="ml" font-size="14.47" letter-spacing="1.04" style="stroke-width:0.35px">40</text>
<text x="466.33" y="396.47" class="ml" font-size="23.29" textLength="29.58" lengthAdjust="spacingAndGlyphs">EC</text>
<text x="480.31" y="448.46" class="ml" font-size="14.08" letter-spacing="2.21" style="stroke-width:0.35px">33</text>
<text x="559.38" y="355.40" class="ml" font-size="21.23" textLength="11.81" lengthAdjust="spacingAndGlyphs">A</text>
<defs><clipPath id="noaac"><circle cx="80.1" cy="537.9" r="33.0"/></clipPath>
<path id="toparc" d="M47.24,550.51 A35.2,35.2 0 1 1 112.96,550.51"/>
<path id="botarc" d="M45.17,555.70 A39.2,39.2 0 0 0 115.03,555.70"/></defs>
<circle cx="80.1" cy="537.9" r="33" fill="#1F6DB5"/>
<g clip-path="url(#noaac)">
<path d="M40,500 L120,500 L120,518 L110.7,522.5 C107,526 103,531 98,537 C95,540 92,543 85.8,546 C82,547 79.6,546.5 73.4,544.9 C70,543.5 67.1,541.8 60.9,536.8 C58,534.5 54.7,533.1 47.6,531.8 L40,531 Z" fill="#fff"/>
<path d="M40,500 L120,500 L120,517 L107.7,520 L106.4,520 C105,522 104,523 103.2,524.4 C101,527 99,529 98.3,530.6 C96,533 94,535 92,536.8 C89,539.5 87.5,541 85.8,541.8 C84,542.8 82,543.3 80.8,543.3 C78.5,543.3 77,543 75.8,542.4 C74,541.5 72.5,540.5 70.9,539.3 C68,537 66,535 64.6,533.1 C62,530 60,527.5 58.4,525.6 C56.5,522.5 55,520 53.8,518 L40,514 Z" fill="#1A1C6B"/>
<path d="M69.6,551.8 C76,550.5 84,548 94.5,544.9" fill="none" stroke="#fff" stroke-width="2.6" stroke-linecap="round"/>
</g>
<text x="80.1" y="526.9" text-anchor="middle" class="noaa" textLength="28" lengthAdjust="spacingAndGlyphs">NOAA</text>
<text class="ring"><textPath href="#toparc" textLength="134" lengthAdjust="spacingAndGlyphs">NATIONAL OCEANIC AND ATMOSPHERIC ADMINISTRATION</textPath></text>
<text class="ring"><textPath href="#botarc" textLength="84" lengthAdjust="spacingAndGlyphs">U.S. DEPARTMENT OF COMMERCE</textPath></text>
</svg>
</body></html>
